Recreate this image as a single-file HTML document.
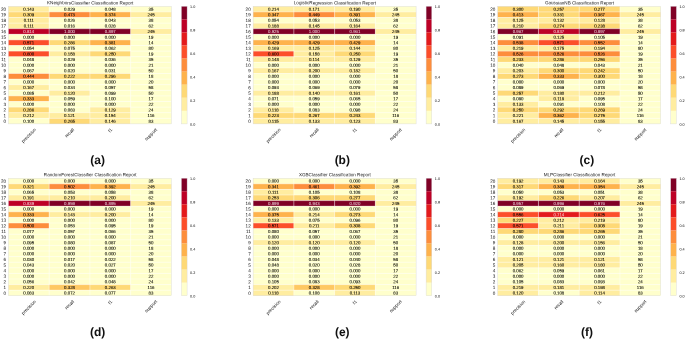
<!DOCTYPE html>
<html><head><meta charset="utf-8"><title>Classification Reports</title>
<style>
html,body{margin:0;padding:0;background:#fff;}
body{width:685px;height:340px;overflow:hidden;font-family:"Liberation Sans",sans-serif;}
svg{display:block;will-change:transform;opacity:0.999;text-rendering:geometricPrecision;}
</style></head><body>
<svg width="685" height="340" viewBox="0 0 685 340" font-family="Liberation Sans, sans-serif">
<rect width="685" height="340" fill="#fff"/>
<g>
<rect x="8.40" y="6.30" width="40.80" height="5.65" fill="#ffeda0"/>
<rect x="49.15" y="6.30" width="40.80" height="5.65" fill="#ffffcc"/>
<rect x="89.90" y="6.30" width="40.80" height="5.65" fill="#ffffcc"/>
<rect x="130.65" y="6.30" width="40.80" height="5.65" fill="#ffffcc"/>
<rect x="8.40" y="11.90" width="40.80" height="5.65" fill="#fed976"/>
<rect x="49.15" y="11.90" width="40.80" height="5.65" fill="#fd8d3c"/>
<rect x="89.90" y="11.90" width="40.80" height="5.65" fill="#feb24c"/>
<rect x="130.65" y="11.90" width="40.80" height="5.65" fill="#ffeda0"/>
<rect x="8.40" y="17.50" width="40.80" height="5.65" fill="#ffeda0"/>
<rect x="49.15" y="17.50" width="40.80" height="5.65" fill="#ffffcc"/>
<rect x="89.90" y="17.50" width="40.80" height="5.65" fill="#ffffcc"/>
<rect x="130.65" y="17.50" width="40.80" height="5.65" fill="#ffffcc"/>
<rect x="8.40" y="23.10" width="40.80" height="5.65" fill="#ffeda0"/>
<rect x="49.15" y="23.10" width="40.80" height="5.65" fill="#ffffcc"/>
<rect x="89.90" y="23.10" width="40.80" height="5.65" fill="#ffffcc"/>
<rect x="130.65" y="23.10" width="40.80" height="5.65" fill="#ffffcc"/>
<rect x="8.40" y="28.70" width="40.80" height="5.65" fill="#bd0026"/>
<rect x="49.15" y="28.70" width="40.80" height="5.65" fill="#800026"/>
<rect x="89.90" y="28.70" width="40.80" height="5.65" fill="#800026"/>
<rect x="130.65" y="28.70" width="40.80" height="5.65" fill="#ffeda0"/>
<rect x="8.40" y="34.30" width="40.80" height="5.65" fill="#ffffcc"/>
<rect x="49.15" y="34.30" width="40.80" height="5.65" fill="#ffffcc"/>
<rect x="89.90" y="34.30" width="40.80" height="5.65" fill="#ffffcc"/>
<rect x="130.65" y="34.30" width="40.80" height="5.65" fill="#ffffcc"/>
<rect x="8.40" y="39.90" width="40.80" height="5.65" fill="#fc4e2a"/>
<rect x="49.15" y="39.90" width="40.80" height="5.65" fill="#fed976"/>
<rect x="89.90" y="39.90" width="40.80" height="5.65" fill="#feb24c"/>
<rect x="130.65" y="39.90" width="40.80" height="5.65" fill="#ffffcc"/>
<rect x="8.40" y="45.50" width="40.80" height="5.65" fill="#ffffcc"/>
<rect x="49.15" y="45.50" width="40.80" height="5.65" fill="#ffffcc"/>
<rect x="89.90" y="45.50" width="40.80" height="5.65" fill="#ffffcc"/>
<rect x="130.65" y="45.50" width="40.80" height="5.65" fill="#ffffcc"/>
<rect x="8.40" y="51.10" width="40.80" height="5.65" fill="#fc4e2a"/>
<rect x="49.15" y="51.10" width="40.80" height="5.65" fill="#ffeda0"/>
<rect x="89.90" y="51.10" width="40.80" height="5.65" fill="#fed976"/>
<rect x="130.65" y="51.10" width="40.80" height="5.65" fill="#ffffcc"/>
<rect x="8.40" y="56.70" width="40.80" height="5.65" fill="#ffffcc"/>
<rect x="49.15" y="56.70" width="40.80" height="5.65" fill="#ffffcc"/>
<rect x="89.90" y="56.70" width="40.80" height="5.65" fill="#ffffcc"/>
<rect x="130.65" y="56.70" width="40.80" height="5.65" fill="#ffffcc"/>
<rect x="8.40" y="62.30" width="40.80" height="5.65" fill="#ffffcc"/>
<rect x="49.15" y="62.30" width="40.80" height="5.65" fill="#ffffcc"/>
<rect x="89.90" y="62.30" width="40.80" height="5.65" fill="#ffffcc"/>
<rect x="130.65" y="62.30" width="40.80" height="5.65" fill="#ffffcc"/>
<rect x="8.40" y="67.90" width="40.80" height="5.65" fill="#ffffcc"/>
<rect x="49.15" y="67.90" width="40.80" height="5.65" fill="#ffffcc"/>
<rect x="89.90" y="67.90" width="40.80" height="5.65" fill="#ffffcc"/>
<rect x="130.65" y="67.90" width="40.80" height="5.65" fill="#ffffcc"/>
<rect x="8.40" y="73.50" width="40.80" height="5.65" fill="#fd8d3c"/>
<rect x="49.15" y="73.50" width="40.80" height="5.65" fill="#fed976"/>
<rect x="89.90" y="73.50" width="40.80" height="5.65" fill="#fed976"/>
<rect x="130.65" y="73.50" width="40.80" height="5.65" fill="#ffffcc"/>
<rect x="8.40" y="79.10" width="40.80" height="5.65" fill="#ffffcc"/>
<rect x="49.15" y="79.10" width="40.80" height="5.65" fill="#ffffcc"/>
<rect x="89.90" y="79.10" width="40.80" height="5.65" fill="#ffffcc"/>
<rect x="130.65" y="79.10" width="40.80" height="5.65" fill="#ffffcc"/>
<rect x="8.40" y="84.70" width="40.80" height="5.65" fill="#ffeda0"/>
<rect x="49.15" y="84.70" width="40.80" height="5.65" fill="#ffffcc"/>
<rect x="89.90" y="84.70" width="40.80" height="5.65" fill="#ffffcc"/>
<rect x="130.65" y="84.70" width="40.80" height="5.65" fill="#ffffcc"/>
<rect x="8.40" y="90.30" width="40.80" height="5.65" fill="#ffffcc"/>
<rect x="49.15" y="90.30" width="40.80" height="5.65" fill="#ffeda0"/>
<rect x="89.90" y="90.30" width="40.80" height="5.65" fill="#ffffcc"/>
<rect x="130.65" y="90.30" width="40.80" height="5.65" fill="#ffffcc"/>
<rect x="8.40" y="95.90" width="40.80" height="5.65" fill="#feb24c"/>
<rect x="49.15" y="95.90" width="40.80" height="5.65" fill="#ffffcc"/>
<rect x="89.90" y="95.90" width="40.80" height="5.65" fill="#ffffcc"/>
<rect x="130.65" y="95.90" width="40.80" height="5.65" fill="#ffffcc"/>
<rect x="8.40" y="101.50" width="40.80" height="5.65" fill="#ffffcc"/>
<rect x="49.15" y="101.50" width="40.80" height="5.65" fill="#ffffcc"/>
<rect x="89.90" y="101.50" width="40.80" height="5.65" fill="#ffffcc"/>
<rect x="130.65" y="101.50" width="40.80" height="5.65" fill="#ffffcc"/>
<rect x="8.40" y="107.10" width="40.80" height="5.65" fill="#fed976"/>
<rect x="49.15" y="107.10" width="40.80" height="5.65" fill="#ffffcc"/>
<rect x="89.90" y="107.10" width="40.80" height="5.65" fill="#ffeda0"/>
<rect x="130.65" y="107.10" width="40.80" height="5.65" fill="#ffffcc"/>
<rect x="8.40" y="112.70" width="40.80" height="5.65" fill="#ffeda0"/>
<rect x="49.15" y="112.70" width="40.80" height="5.65" fill="#ffeda0"/>
<rect x="89.90" y="112.70" width="40.80" height="5.65" fill="#ffeda0"/>
<rect x="130.65" y="112.70" width="40.80" height="5.65" fill="#ffffcc"/>
<rect x="8.40" y="118.30" width="40.80" height="5.65" fill="#ffffcc"/>
<rect x="49.15" y="118.30" width="40.80" height="5.65" fill="#fed976"/>
<rect x="89.90" y="118.30" width="40.80" height="5.65" fill="#ffeda0"/>
<rect x="130.65" y="118.30" width="40.80" height="5.65" fill="#ffffcc"/>
<line x1="8.40" x2="171.40" y1="11.90" y2="11.90" stroke="#fff" stroke-width="0.5" stroke-opacity="0.85"/>
<line x1="8.40" x2="171.40" y1="17.50" y2="17.50" stroke="#fff" stroke-width="0.5" stroke-opacity="0.85"/>
<line x1="8.40" x2="171.40" y1="23.10" y2="23.10" stroke="#fff" stroke-width="0.5" stroke-opacity="0.85"/>
<line x1="8.40" x2="171.40" y1="28.70" y2="28.70" stroke="#fff" stroke-width="0.5" stroke-opacity="0.85"/>
<line x1="8.40" x2="171.40" y1="34.30" y2="34.30" stroke="#fff" stroke-width="0.5" stroke-opacity="0.85"/>
<line x1="8.40" x2="171.40" y1="39.90" y2="39.90" stroke="#fff" stroke-width="0.5" stroke-opacity="0.85"/>
<line x1="8.40" x2="171.40" y1="45.50" y2="45.50" stroke="#fff" stroke-width="0.5" stroke-opacity="0.85"/>
<line x1="8.40" x2="171.40" y1="51.10" y2="51.10" stroke="#fff" stroke-width="0.5" stroke-opacity="0.85"/>
<line x1="8.40" x2="171.40" y1="56.70" y2="56.70" stroke="#fff" stroke-width="0.5" stroke-opacity="0.85"/>
<line x1="8.40" x2="171.40" y1="62.30" y2="62.30" stroke="#fff" stroke-width="0.5" stroke-opacity="0.85"/>
<line x1="8.40" x2="171.40" y1="67.90" y2="67.90" stroke="#fff" stroke-width="0.5" stroke-opacity="0.85"/>
<line x1="8.40" x2="171.40" y1="73.50" y2="73.50" stroke="#fff" stroke-width="0.5" stroke-opacity="0.85"/>
<line x1="8.40" x2="171.40" y1="79.10" y2="79.10" stroke="#fff" stroke-width="0.5" stroke-opacity="0.85"/>
<line x1="8.40" x2="171.40" y1="84.70" y2="84.70" stroke="#fff" stroke-width="0.5" stroke-opacity="0.85"/>
<line x1="8.40" x2="171.40" y1="90.30" y2="90.30" stroke="#fff" stroke-width="0.5" stroke-opacity="0.85"/>
<line x1="8.40" x2="171.40" y1="95.90" y2="95.90" stroke="#fff" stroke-width="0.5" stroke-opacity="0.85"/>
<line x1="8.40" x2="171.40" y1="101.50" y2="101.50" stroke="#fff" stroke-width="0.5" stroke-opacity="0.85"/>
<line x1="8.40" x2="171.40" y1="107.10" y2="107.10" stroke="#fff" stroke-width="0.5" stroke-opacity="0.85"/>
<line x1="8.40" x2="171.40" y1="112.70" y2="112.70" stroke="#fff" stroke-width="0.5" stroke-opacity="0.85"/>
<line x1="8.40" x2="171.40" y1="118.30" y2="118.30" stroke="#fff" stroke-width="0.5" stroke-opacity="0.85"/>
<line x1="49.15" x2="49.15" y1="6.30" y2="123.90" stroke="#fff" stroke-width="0.5" stroke-opacity="0.85"/>
<line x1="89.90" x2="89.90" y1="6.30" y2="123.90" stroke="#fff" stroke-width="0.5" stroke-opacity="0.85"/>
<line x1="130.65" x2="130.65" y1="6.30" y2="123.90" stroke="#fff" stroke-width="0.5" stroke-opacity="0.85"/>
<rect x="8.40" y="6.30" width="163.00" height="117.60" fill="none" stroke="#d8d8dc" stroke-width="0.4"/>
<text transform="translate(28.77,10.64) rotate(0.06)" font-size="4.35" text-anchor="middle" fill="#000" stroke="#000" stroke-width="0.08">0.143</text>
<text transform="translate(69.53,10.64) rotate(0.06)" font-size="4.35" text-anchor="middle" fill="#000" stroke="#000" stroke-width="0.08">0.029</text>
<text transform="translate(110.28,10.64) rotate(0.06)" font-size="4.35" text-anchor="middle" fill="#000" stroke="#000" stroke-width="0.08">0.048</text>
<text transform="translate(151.03,10.64) rotate(0.06)" font-size="4.35" text-anchor="middle" fill="#000" stroke="#000" stroke-width="0.08">35</text>
<text transform="translate(6.00,10.73) rotate(0.06)" font-size="4.6" text-anchor="end" fill="#111">20</text>
<text transform="translate(28.77,16.24) rotate(0.06)" font-size="4.35" text-anchor="middle" fill="#000" stroke="#000" stroke-width="0.08">0.309</text>
<text transform="translate(69.53,16.24) rotate(0.06)" font-size="4.35" text-anchor="middle" fill="#000" stroke="#000" stroke-width="0.08">0.473</text>
<text transform="translate(110.28,16.24) rotate(0.06)" font-size="4.35" text-anchor="middle" fill="#000" stroke="#000" stroke-width="0.08">0.374</text>
<text transform="translate(151.03,16.24) rotate(0.06)" font-size="4.35" text-anchor="middle" fill="#000" stroke="#000" stroke-width="0.08">245</text>
<text transform="translate(6.00,16.33) rotate(0.06)" font-size="4.6" text-anchor="end" fill="#111">19</text>
<text transform="translate(28.77,21.84) rotate(0.06)" font-size="4.35" text-anchor="middle" fill="#000" stroke="#000" stroke-width="0.08">0.111</text>
<text transform="translate(69.53,21.84) rotate(0.06)" font-size="4.35" text-anchor="middle" fill="#000" stroke="#000" stroke-width="0.08">0.026</text>
<text transform="translate(110.28,21.84) rotate(0.06)" font-size="4.35" text-anchor="middle" fill="#000" stroke="#000" stroke-width="0.08">0.043</text>
<text transform="translate(151.03,21.84) rotate(0.06)" font-size="4.35" text-anchor="middle" fill="#000" stroke="#000" stroke-width="0.08">38</text>
<text transform="translate(6.00,21.93) rotate(0.06)" font-size="4.6" text-anchor="end" fill="#111">18</text>
<text transform="translate(28.77,27.44) rotate(0.06)" font-size="4.35" text-anchor="middle" fill="#000" stroke="#000" stroke-width="0.08">0.111</text>
<text transform="translate(69.53,27.44) rotate(0.06)" font-size="4.35" text-anchor="middle" fill="#000" stroke="#000" stroke-width="0.08">0.016</text>
<text transform="translate(110.28,27.44) rotate(0.06)" font-size="4.35" text-anchor="middle" fill="#000" stroke="#000" stroke-width="0.08">0.028</text>
<text transform="translate(151.03,27.44) rotate(0.06)" font-size="4.35" text-anchor="middle" fill="#000" stroke="#000" stroke-width="0.08">62</text>
<text transform="translate(6.00,27.53) rotate(0.06)" font-size="4.6" text-anchor="end" fill="#111">17</text>
<text transform="translate(28.77,33.04) rotate(0.06)" font-size="4.35" text-anchor="middle" fill="#fff" fill-opacity="0.88">0.814</text>
<text transform="translate(69.53,33.04) rotate(0.06)" font-size="4.35" text-anchor="middle" fill="#fff" fill-opacity="0.88">1.000</text>
<text transform="translate(110.28,33.04) rotate(0.06)" font-size="4.35" text-anchor="middle" fill="#fff" fill-opacity="0.88">0.897</text>
<text transform="translate(151.03,33.04) rotate(0.06)" font-size="4.35" text-anchor="middle" fill="#000" stroke="#000" stroke-width="0.08">245</text>
<text transform="translate(6.00,33.13) rotate(0.06)" font-size="4.6" text-anchor="end" fill="#111">16</text>
<text transform="translate(28.77,38.64) rotate(0.06)" font-size="4.35" text-anchor="middle" fill="#000" stroke="#000" stroke-width="0.08">0.000</text>
<text transform="translate(69.53,38.64) rotate(0.06)" font-size="4.35" text-anchor="middle" fill="#000" stroke="#000" stroke-width="0.08">0.000</text>
<text transform="translate(110.28,38.64) rotate(0.06)" font-size="4.35" text-anchor="middle" fill="#000" stroke="#000" stroke-width="0.08">0.000</text>
<text transform="translate(151.03,38.64) rotate(0.06)" font-size="4.35" text-anchor="middle" fill="#000" stroke="#000" stroke-width="0.08">19</text>
<text transform="translate(6.00,38.73) rotate(0.06)" font-size="4.6" text-anchor="end" fill="#111">15</text>
<text transform="translate(28.77,44.24) rotate(0.06)" font-size="4.35" text-anchor="middle" fill="#000" stroke="#000" stroke-width="0.08">0.571</text>
<text transform="translate(69.53,44.24) rotate(0.06)" font-size="4.35" text-anchor="middle" fill="#000" stroke="#000" stroke-width="0.08">0.286</text>
<text transform="translate(110.28,44.24) rotate(0.06)" font-size="4.35" text-anchor="middle" fill="#000" stroke="#000" stroke-width="0.08">0.381</text>
<text transform="translate(151.03,44.24) rotate(0.06)" font-size="4.35" text-anchor="middle" fill="#000" stroke="#000" stroke-width="0.08">14</text>
<text transform="translate(6.00,44.33) rotate(0.06)" font-size="4.6" text-anchor="end" fill="#111">14</text>
<text transform="translate(28.77,49.84) rotate(0.06)" font-size="4.35" text-anchor="middle" fill="#000" stroke="#000" stroke-width="0.08">0.054</text>
<text transform="translate(69.53,49.84) rotate(0.06)" font-size="4.35" text-anchor="middle" fill="#000" stroke="#000" stroke-width="0.08">0.075</text>
<text transform="translate(110.28,49.84) rotate(0.06)" font-size="4.35" text-anchor="middle" fill="#000" stroke="#000" stroke-width="0.08">0.062</text>
<text transform="translate(151.03,49.84) rotate(0.06)" font-size="4.35" text-anchor="middle" fill="#000" stroke="#000" stroke-width="0.08">80</text>
<text transform="translate(6.00,49.93) rotate(0.06)" font-size="4.6" text-anchor="end" fill="#111">13</text>
<text transform="translate(28.77,55.44) rotate(0.06)" font-size="4.35" text-anchor="middle" fill="#000" stroke="#000" stroke-width="0.08">0.600</text>
<text transform="translate(69.53,55.44) rotate(0.06)" font-size="4.35" text-anchor="middle" fill="#000" stroke="#000" stroke-width="0.08">0.158</text>
<text transform="translate(110.28,55.44) rotate(0.06)" font-size="4.35" text-anchor="middle" fill="#000" stroke="#000" stroke-width="0.08">0.250</text>
<text transform="translate(151.03,55.44) rotate(0.06)" font-size="4.35" text-anchor="middle" fill="#000" stroke="#000" stroke-width="0.08">19</text>
<text transform="translate(6.00,55.53) rotate(0.06)" font-size="4.6" text-anchor="end" fill="#111">12</text>
<text transform="translate(28.77,61.04) rotate(0.06)" font-size="4.35" text-anchor="middle" fill="#000" stroke="#000" stroke-width="0.08">0.048</text>
<text transform="translate(69.53,61.04) rotate(0.06)" font-size="4.35" text-anchor="middle" fill="#000" stroke="#000" stroke-width="0.08">0.029</text>
<text transform="translate(110.28,61.04) rotate(0.06)" font-size="4.35" text-anchor="middle" fill="#000" stroke="#000" stroke-width="0.08">0.036</text>
<text transform="translate(151.03,61.04) rotate(0.06)" font-size="4.35" text-anchor="middle" fill="#000" stroke="#000" stroke-width="0.08">35</text>
<text transform="translate(6.00,61.13) rotate(0.06)" font-size="4.6" text-anchor="end" fill="#111">11</text>
<text transform="translate(28.77,66.64) rotate(0.06)" font-size="4.35" text-anchor="middle" fill="#000" stroke="#000" stroke-width="0.08">0.000</text>
<text transform="translate(69.53,66.64) rotate(0.06)" font-size="4.35" text-anchor="middle" fill="#000" stroke="#000" stroke-width="0.08">0.000</text>
<text transform="translate(110.28,66.64) rotate(0.06)" font-size="4.35" text-anchor="middle" fill="#000" stroke="#000" stroke-width="0.08">0.000</text>
<text transform="translate(151.03,66.64) rotate(0.06)" font-size="4.35" text-anchor="middle" fill="#000" stroke="#000" stroke-width="0.08">21</text>
<text transform="translate(6.00,66.73) rotate(0.06)" font-size="4.6" text-anchor="end" fill="#111">10</text>
<text transform="translate(28.77,72.24) rotate(0.06)" font-size="4.35" text-anchor="middle" fill="#000" stroke="#000" stroke-width="0.08">0.067</text>
<text transform="translate(69.53,72.24) rotate(0.06)" font-size="4.35" text-anchor="middle" fill="#000" stroke="#000" stroke-width="0.08">0.020</text>
<text transform="translate(110.28,72.24) rotate(0.06)" font-size="4.35" text-anchor="middle" fill="#000" stroke="#000" stroke-width="0.08">0.031</text>
<text transform="translate(151.03,72.24) rotate(0.06)" font-size="4.35" text-anchor="middle" fill="#000" stroke="#000" stroke-width="0.08">50</text>
<text transform="translate(6.00,72.33) rotate(0.06)" font-size="4.6" text-anchor="end" fill="#111">9</text>
<text transform="translate(28.77,77.84) rotate(0.06)" font-size="4.35" text-anchor="middle" fill="#000" stroke="#000" stroke-width="0.08">0.444</text>
<text transform="translate(69.53,77.84) rotate(0.06)" font-size="4.35" text-anchor="middle" fill="#000" stroke="#000" stroke-width="0.08">0.222</text>
<text transform="translate(110.28,77.84) rotate(0.06)" font-size="4.35" text-anchor="middle" fill="#000" stroke="#000" stroke-width="0.08">0.296</text>
<text transform="translate(151.03,77.84) rotate(0.06)" font-size="4.35" text-anchor="middle" fill="#000" stroke="#000" stroke-width="0.08">18</text>
<text transform="translate(6.00,77.93) rotate(0.06)" font-size="4.6" text-anchor="end" fill="#111">8</text>
<text transform="translate(28.77,83.44) rotate(0.06)" font-size="4.35" text-anchor="middle" fill="#000" stroke="#000" stroke-width="0.08">0.000</text>
<text transform="translate(69.53,83.44) rotate(0.06)" font-size="4.35" text-anchor="middle" fill="#000" stroke="#000" stroke-width="0.08">0.000</text>
<text transform="translate(110.28,83.44) rotate(0.06)" font-size="4.35" text-anchor="middle" fill="#000" stroke="#000" stroke-width="0.08">0.000</text>
<text transform="translate(151.03,83.44) rotate(0.06)" font-size="4.35" text-anchor="middle" fill="#000" stroke="#000" stroke-width="0.08">20</text>
<text transform="translate(6.00,83.53) rotate(0.06)" font-size="4.6" text-anchor="end" fill="#111">7</text>
<text transform="translate(28.77,89.04) rotate(0.06)" font-size="4.35" text-anchor="middle" fill="#000" stroke="#000" stroke-width="0.08">0.167</text>
<text transform="translate(69.53,89.04) rotate(0.06)" font-size="4.35" text-anchor="middle" fill="#000" stroke="#000" stroke-width="0.08">0.034</text>
<text transform="translate(110.28,89.04) rotate(0.06)" font-size="4.35" text-anchor="middle" fill="#000" stroke="#000" stroke-width="0.08">0.057</text>
<text transform="translate(151.03,89.04) rotate(0.06)" font-size="4.35" text-anchor="middle" fill="#000" stroke="#000" stroke-width="0.08">58</text>
<text transform="translate(6.00,89.13) rotate(0.06)" font-size="4.6" text-anchor="end" fill="#111">6</text>
<text transform="translate(28.77,94.64) rotate(0.06)" font-size="4.35" text-anchor="middle" fill="#000" stroke="#000" stroke-width="0.08">0.085</text>
<text transform="translate(69.53,94.64) rotate(0.06)" font-size="4.35" text-anchor="middle" fill="#000" stroke="#000" stroke-width="0.08">0.120</text>
<text transform="translate(110.28,94.64) rotate(0.06)" font-size="4.35" text-anchor="middle" fill="#000" stroke="#000" stroke-width="0.08">0.099</text>
<text transform="translate(151.03,94.64) rotate(0.06)" font-size="4.35" text-anchor="middle" fill="#000" stroke="#000" stroke-width="0.08">50</text>
<text transform="translate(6.00,94.73) rotate(0.06)" font-size="4.6" text-anchor="end" fill="#111">5</text>
<text transform="translate(28.77,100.24) rotate(0.06)" font-size="4.35" text-anchor="middle" fill="#000" stroke="#000" stroke-width="0.08">0.333</text>
<text transform="translate(69.53,100.24) rotate(0.06)" font-size="4.35" text-anchor="middle" fill="#000" stroke="#000" stroke-width="0.08">0.059</text>
<text transform="translate(110.28,100.24) rotate(0.06)" font-size="4.35" text-anchor="middle" fill="#000" stroke="#000" stroke-width="0.08">0.100</text>
<text transform="translate(151.03,100.24) rotate(0.06)" font-size="4.35" text-anchor="middle" fill="#000" stroke="#000" stroke-width="0.08">17</text>
<text transform="translate(6.00,100.33) rotate(0.06)" font-size="4.6" text-anchor="end" fill="#111">4</text>
<text transform="translate(28.77,105.84) rotate(0.06)" font-size="4.35" text-anchor="middle" fill="#000" stroke="#000" stroke-width="0.08">0.000</text>
<text transform="translate(69.53,105.84) rotate(0.06)" font-size="4.35" text-anchor="middle" fill="#000" stroke="#000" stroke-width="0.08">0.000</text>
<text transform="translate(110.28,105.84) rotate(0.06)" font-size="4.35" text-anchor="middle" fill="#000" stroke="#000" stroke-width="0.08">0.000</text>
<text transform="translate(151.03,105.84) rotate(0.06)" font-size="4.35" text-anchor="middle" fill="#000" stroke="#000" stroke-width="0.08">22</text>
<text transform="translate(6.00,105.93) rotate(0.06)" font-size="4.6" text-anchor="end" fill="#111">3</text>
<text transform="translate(28.77,111.44) rotate(0.06)" font-size="4.35" text-anchor="middle" fill="#000" stroke="#000" stroke-width="0.08">0.286</text>
<text transform="translate(69.53,111.44) rotate(0.06)" font-size="4.35" text-anchor="middle" fill="#000" stroke="#000" stroke-width="0.08">0.083</text>
<text transform="translate(110.28,111.44) rotate(0.06)" font-size="4.35" text-anchor="middle" fill="#000" stroke="#000" stroke-width="0.08">0.129</text>
<text transform="translate(151.03,111.44) rotate(0.06)" font-size="4.35" text-anchor="middle" fill="#000" stroke="#000" stroke-width="0.08">24</text>
<text transform="translate(6.00,111.53) rotate(0.06)" font-size="4.6" text-anchor="end" fill="#111">2</text>
<text transform="translate(28.77,117.04) rotate(0.06)" font-size="4.35" text-anchor="middle" fill="#000" stroke="#000" stroke-width="0.08">0.212</text>
<text transform="translate(69.53,117.04) rotate(0.06)" font-size="4.35" text-anchor="middle" fill="#000" stroke="#000" stroke-width="0.08">0.121</text>
<text transform="translate(110.28,117.04) rotate(0.06)" font-size="4.35" text-anchor="middle" fill="#000" stroke="#000" stroke-width="0.08">0.154</text>
<text transform="translate(151.03,117.04) rotate(0.06)" font-size="4.35" text-anchor="middle" fill="#000" stroke="#000" stroke-width="0.08">116</text>
<text transform="translate(6.00,117.13) rotate(0.06)" font-size="4.6" text-anchor="end" fill="#111">1</text>
<text transform="translate(28.77,122.64) rotate(0.06)" font-size="4.35" text-anchor="middle" fill="#000" stroke="#000" stroke-width="0.08">0.100</text>
<text transform="translate(69.53,122.64) rotate(0.06)" font-size="4.35" text-anchor="middle" fill="#000" stroke="#000" stroke-width="0.08">0.265</text>
<text transform="translate(110.28,122.64) rotate(0.06)" font-size="4.35" text-anchor="middle" fill="#000" stroke="#000" stroke-width="0.08">0.146</text>
<text transform="translate(151.03,122.64) rotate(0.06)" font-size="4.35" text-anchor="middle" fill="#000" stroke="#000" stroke-width="0.08">83</text>
<text transform="translate(6.00,122.73) rotate(0.06)" font-size="4.6" text-anchor="end" fill="#111">0</text>
<text transform="translate(90.20,4.40) rotate(0.06)" font-size="4.6" text-anchor="middle" fill="#1a1a1a">KNeighborsClassifier Classification Report</text>
<text transform="translate(28.77,135.55) rotate(-45)" y="1.38" font-size="4.6" text-anchor="middle" fill="#111">precision</text>
<text transform="translate(69.53,132.93) rotate(-45)" y="1.38" font-size="4.6" text-anchor="middle" fill="#111">recall</text>
<text transform="translate(110.28,130.40) rotate(-45)" y="1.38" font-size="4.6" text-anchor="middle" fill="#111">f1</text>
<text transform="translate(151.03,134.47) rotate(-45)" y="1.38" font-size="4.6" text-anchor="middle" fill="#111">support</text>
<rect x="181.40" y="6.30" width="5.7" height="13.12" fill="#800026"/>
<rect x="181.40" y="19.37" width="5.7" height="13.12" fill="#bd0026"/>
<rect x="181.40" y="32.43" width="5.7" height="13.12" fill="#e31a1c"/>
<rect x="181.40" y="45.50" width="5.7" height="13.12" fill="#fc4e2a"/>
<rect x="181.40" y="58.57" width="5.7" height="13.12" fill="#fd8d3c"/>
<rect x="181.40" y="71.63" width="5.7" height="13.12" fill="#feb24c"/>
<rect x="181.40" y="84.70" width="5.7" height="13.12" fill="#fed976"/>
<rect x="181.40" y="97.77" width="5.7" height="13.12" fill="#ffeda0"/>
<rect x="181.40" y="110.83" width="5.7" height="13.12" fill="#ffffcc"/>
<rect x="181.40" y="6.30" width="5.7" height="117.60" fill="none" stroke="#d8d8dc" stroke-width="0.4"/>
<text transform="translate(190.10,8.03) rotate(0.06)" font-size="3.75" text-anchor="start" fill="#111">1.0</text>
<text transform="translate(190.10,31.55) rotate(0.06)" font-size="3.75" text-anchor="start" fill="#111">0.8</text>
<text transform="translate(190.10,55.07) rotate(0.06)" font-size="3.75" text-anchor="start" fill="#111">0.6</text>
<text transform="translate(190.10,78.59) rotate(0.06)" font-size="3.75" text-anchor="start" fill="#111">0.4</text>
<text transform="translate(190.10,102.11) rotate(0.06)" font-size="3.75" text-anchor="start" fill="#111">0.2</text>
<text transform="translate(190.10,125.63) rotate(0.06)" font-size="3.75" text-anchor="start" fill="#111">0.0</text>
<text x="97.60" y="164.00" font-size="12" font-weight="bold" text-anchor="middle" fill="#111">(a)</text>
</g>
<g>
<rect x="253.10" y="6.30" width="40.80" height="5.65" fill="#ffeda0"/>
<rect x="293.85" y="6.30" width="40.80" height="5.65" fill="#ffeda0"/>
<rect x="334.60" y="6.30" width="40.80" height="5.65" fill="#ffeda0"/>
<rect x="375.35" y="6.30" width="40.80" height="5.65" fill="#ffffcc"/>
<rect x="253.10" y="11.90" width="40.80" height="5.65" fill="#feb24c"/>
<rect x="293.85" y="11.90" width="40.80" height="5.65" fill="#fd8d3c"/>
<rect x="334.60" y="11.90" width="40.80" height="5.65" fill="#feb24c"/>
<rect x="375.35" y="11.90" width="40.80" height="5.65" fill="#ffeda0"/>
<rect x="253.10" y="17.50" width="40.80" height="5.65" fill="#ffffcc"/>
<rect x="293.85" y="17.50" width="40.80" height="5.65" fill="#ffffcc"/>
<rect x="334.60" y="17.50" width="40.80" height="5.65" fill="#ffffcc"/>
<rect x="375.35" y="17.50" width="40.80" height="5.65" fill="#ffffcc"/>
<rect x="253.10" y="23.10" width="40.80" height="5.65" fill="#ffeda0"/>
<rect x="293.85" y="23.10" width="40.80" height="5.65" fill="#ffeda0"/>
<rect x="334.60" y="23.10" width="40.80" height="5.65" fill="#ffeda0"/>
<rect x="375.35" y="23.10" width="40.80" height="5.65" fill="#ffffcc"/>
<rect x="253.10" y="28.70" width="40.80" height="5.65" fill="#800026"/>
<rect x="293.85" y="28.70" width="40.80" height="5.65" fill="#800026"/>
<rect x="334.60" y="28.70" width="40.80" height="5.65" fill="#800026"/>
<rect x="375.35" y="28.70" width="40.80" height="5.65" fill="#ffeda0"/>
<rect x="253.10" y="34.30" width="40.80" height="5.65" fill="#ffffcc"/>
<rect x="293.85" y="34.30" width="40.80" height="5.65" fill="#ffffcc"/>
<rect x="334.60" y="34.30" width="40.80" height="5.65" fill="#ffffcc"/>
<rect x="375.35" y="34.30" width="40.80" height="5.65" fill="#ffffcc"/>
<rect x="253.10" y="39.90" width="40.80" height="5.65" fill="#feb24c"/>
<rect x="293.85" y="39.90" width="40.80" height="5.65" fill="#feb24c"/>
<rect x="334.60" y="39.90" width="40.80" height="5.65" fill="#feb24c"/>
<rect x="375.35" y="39.90" width="40.80" height="5.65" fill="#ffffcc"/>
<rect x="253.10" y="45.50" width="40.80" height="5.65" fill="#ffeda0"/>
<rect x="293.85" y="45.50" width="40.80" height="5.65" fill="#ffeda0"/>
<rect x="334.60" y="45.50" width="40.80" height="5.65" fill="#ffeda0"/>
<rect x="375.35" y="45.50" width="40.80" height="5.65" fill="#ffffcc"/>
<rect x="253.10" y="51.10" width="40.80" height="5.65" fill="#fc4e2a"/>
<rect x="293.85" y="51.10" width="40.80" height="5.65" fill="#ffeda0"/>
<rect x="334.60" y="51.10" width="40.80" height="5.65" fill="#fed976"/>
<rect x="375.35" y="51.10" width="40.80" height="5.65" fill="#ffffcc"/>
<rect x="253.10" y="56.70" width="40.80" height="5.65" fill="#ffeda0"/>
<rect x="293.85" y="56.70" width="40.80" height="5.65" fill="#ffeda0"/>
<rect x="334.60" y="56.70" width="40.80" height="5.65" fill="#ffeda0"/>
<rect x="375.35" y="56.70" width="40.80" height="5.65" fill="#ffffcc"/>
<rect x="253.10" y="62.30" width="40.80" height="5.65" fill="#ffffcc"/>
<rect x="293.85" y="62.30" width="40.80" height="5.65" fill="#ffffcc"/>
<rect x="334.60" y="62.30" width="40.80" height="5.65" fill="#ffffcc"/>
<rect x="375.35" y="62.30" width="40.80" height="5.65" fill="#ffffcc"/>
<rect x="253.10" y="67.90" width="40.80" height="5.65" fill="#ffeda0"/>
<rect x="293.85" y="67.90" width="40.80" height="5.65" fill="#ffeda0"/>
<rect x="334.60" y="67.90" width="40.80" height="5.65" fill="#ffeda0"/>
<rect x="375.35" y="67.90" width="40.80" height="5.65" fill="#ffffcc"/>
<rect x="253.10" y="73.50" width="40.80" height="5.65" fill="#ffffcc"/>
<rect x="293.85" y="73.50" width="40.80" height="5.65" fill="#ffffcc"/>
<rect x="334.60" y="73.50" width="40.80" height="5.65" fill="#ffffcc"/>
<rect x="375.35" y="73.50" width="40.80" height="5.65" fill="#ffffcc"/>
<rect x="253.10" y="79.10" width="40.80" height="5.65" fill="#ffffcc"/>
<rect x="293.85" y="79.10" width="40.80" height="5.65" fill="#ffffcc"/>
<rect x="334.60" y="79.10" width="40.80" height="5.65" fill="#ffffcc"/>
<rect x="375.35" y="79.10" width="40.80" height="5.65" fill="#ffffcc"/>
<rect x="253.10" y="84.70" width="40.80" height="5.65" fill="#ffffcc"/>
<rect x="293.85" y="84.70" width="40.80" height="5.65" fill="#ffffcc"/>
<rect x="334.60" y="84.70" width="40.80" height="5.65" fill="#ffffcc"/>
<rect x="375.35" y="84.70" width="40.80" height="5.65" fill="#ffffcc"/>
<rect x="253.10" y="90.30" width="40.80" height="5.65" fill="#ffeda0"/>
<rect x="293.85" y="90.30" width="40.80" height="5.65" fill="#ffeda0"/>
<rect x="334.60" y="90.30" width="40.80" height="5.65" fill="#ffeda0"/>
<rect x="375.35" y="90.30" width="40.80" height="5.65" fill="#ffffcc"/>
<rect x="253.10" y="95.90" width="40.80" height="5.65" fill="#ffffcc"/>
<rect x="293.85" y="95.90" width="40.80" height="5.65" fill="#ffffcc"/>
<rect x="334.60" y="95.90" width="40.80" height="5.65" fill="#ffffcc"/>
<rect x="375.35" y="95.90" width="40.80" height="5.65" fill="#ffffcc"/>
<rect x="253.10" y="101.50" width="40.80" height="5.65" fill="#ffffcc"/>
<rect x="293.85" y="101.50" width="40.80" height="5.65" fill="#ffffcc"/>
<rect x="334.60" y="101.50" width="40.80" height="5.65" fill="#ffffcc"/>
<rect x="375.35" y="101.50" width="40.80" height="5.65" fill="#ffffcc"/>
<rect x="253.10" y="107.10" width="40.80" height="5.65" fill="#ffeda0"/>
<rect x="293.85" y="107.10" width="40.80" height="5.65" fill="#ffffcc"/>
<rect x="334.60" y="107.10" width="40.80" height="5.65" fill="#ffffcc"/>
<rect x="375.35" y="107.10" width="40.80" height="5.65" fill="#ffffcc"/>
<rect x="253.10" y="112.70" width="40.80" height="5.65" fill="#fed976"/>
<rect x="293.85" y="112.70" width="40.80" height="5.65" fill="#fed976"/>
<rect x="334.60" y="112.70" width="40.80" height="5.65" fill="#fed976"/>
<rect x="375.35" y="112.70" width="40.80" height="5.65" fill="#ffffcc"/>
<rect x="253.10" y="118.30" width="40.80" height="5.65" fill="#ffeda0"/>
<rect x="293.85" y="118.30" width="40.80" height="5.65" fill="#ffeda0"/>
<rect x="334.60" y="118.30" width="40.80" height="5.65" fill="#ffeda0"/>
<rect x="375.35" y="118.30" width="40.80" height="5.65" fill="#ffffcc"/>
<line x1="253.10" x2="416.10" y1="11.90" y2="11.90" stroke="#fff" stroke-width="0.5" stroke-opacity="0.85"/>
<line x1="253.10" x2="416.10" y1="17.50" y2="17.50" stroke="#fff" stroke-width="0.5" stroke-opacity="0.85"/>
<line x1="253.10" x2="416.10" y1="23.10" y2="23.10" stroke="#fff" stroke-width="0.5" stroke-opacity="0.85"/>
<line x1="253.10" x2="416.10" y1="28.70" y2="28.70" stroke="#fff" stroke-width="0.5" stroke-opacity="0.85"/>
<line x1="253.10" x2="416.10" y1="34.30" y2="34.30" stroke="#fff" stroke-width="0.5" stroke-opacity="0.85"/>
<line x1="253.10" x2="416.10" y1="39.90" y2="39.90" stroke="#fff" stroke-width="0.5" stroke-opacity="0.85"/>
<line x1="253.10" x2="416.10" y1="45.50" y2="45.50" stroke="#fff" stroke-width="0.5" stroke-opacity="0.85"/>
<line x1="253.10" x2="416.10" y1="51.10" y2="51.10" stroke="#fff" stroke-width="0.5" stroke-opacity="0.85"/>
<line x1="253.10" x2="416.10" y1="56.70" y2="56.70" stroke="#fff" stroke-width="0.5" stroke-opacity="0.85"/>
<line x1="253.10" x2="416.10" y1="62.30" y2="62.30" stroke="#fff" stroke-width="0.5" stroke-opacity="0.85"/>
<line x1="253.10" x2="416.10" y1="67.90" y2="67.90" stroke="#fff" stroke-width="0.5" stroke-opacity="0.85"/>
<line x1="253.10" x2="416.10" y1="73.50" y2="73.50" stroke="#fff" stroke-width="0.5" stroke-opacity="0.85"/>
<line x1="253.10" x2="416.10" y1="79.10" y2="79.10" stroke="#fff" stroke-width="0.5" stroke-opacity="0.85"/>
<line x1="253.10" x2="416.10" y1="84.70" y2="84.70" stroke="#fff" stroke-width="0.5" stroke-opacity="0.85"/>
<line x1="253.10" x2="416.10" y1="90.30" y2="90.30" stroke="#fff" stroke-width="0.5" stroke-opacity="0.85"/>
<line x1="253.10" x2="416.10" y1="95.90" y2="95.90" stroke="#fff" stroke-width="0.5" stroke-opacity="0.85"/>
<line x1="253.10" x2="416.10" y1="101.50" y2="101.50" stroke="#fff" stroke-width="0.5" stroke-opacity="0.85"/>
<line x1="253.10" x2="416.10" y1="107.10" y2="107.10" stroke="#fff" stroke-width="0.5" stroke-opacity="0.85"/>
<line x1="253.10" x2="416.10" y1="112.70" y2="112.70" stroke="#fff" stroke-width="0.5" stroke-opacity="0.85"/>
<line x1="253.10" x2="416.10" y1="118.30" y2="118.30" stroke="#fff" stroke-width="0.5" stroke-opacity="0.85"/>
<line x1="293.85" x2="293.85" y1="6.30" y2="123.90" stroke="#fff" stroke-width="0.5" stroke-opacity="0.85"/>
<line x1="334.60" x2="334.60" y1="6.30" y2="123.90" stroke="#fff" stroke-width="0.5" stroke-opacity="0.85"/>
<line x1="375.35" x2="375.35" y1="6.30" y2="123.90" stroke="#fff" stroke-width="0.5" stroke-opacity="0.85"/>
<rect x="253.10" y="6.30" width="163.00" height="117.60" fill="none" stroke="#d8d8dc" stroke-width="0.4"/>
<text transform="translate(273.48,10.64) rotate(0.06)" font-size="4.35" text-anchor="middle" fill="#000" stroke="#000" stroke-width="0.08">0.214</text>
<text transform="translate(314.23,10.64) rotate(0.06)" font-size="4.35" text-anchor="middle" fill="#000" stroke="#000" stroke-width="0.08">0.171</text>
<text transform="translate(354.98,10.64) rotate(0.06)" font-size="4.35" text-anchor="middle" fill="#000" stroke="#000" stroke-width="0.08">0.190</text>
<text transform="translate(395.73,10.64) rotate(0.06)" font-size="4.35" text-anchor="middle" fill="#000" stroke="#000" stroke-width="0.08">35</text>
<text transform="translate(250.70,10.73) rotate(0.06)" font-size="4.6" text-anchor="end" fill="#111">20</text>
<text transform="translate(273.48,16.24) rotate(0.06)" font-size="4.35" text-anchor="middle" fill="#000" stroke="#000" stroke-width="0.08">0.347</text>
<text transform="translate(314.23,16.24) rotate(0.06)" font-size="4.35" text-anchor="middle" fill="#000" stroke="#000" stroke-width="0.08">0.449</text>
<text transform="translate(354.98,16.24) rotate(0.06)" font-size="4.35" text-anchor="middle" fill="#000" stroke="#000" stroke-width="0.08">0.391</text>
<text transform="translate(395.73,16.24) rotate(0.06)" font-size="4.35" text-anchor="middle" fill="#000" stroke="#000" stroke-width="0.08">245</text>
<text transform="translate(250.70,16.33) rotate(0.06)" font-size="4.6" text-anchor="end" fill="#111">19</text>
<text transform="translate(273.48,21.84) rotate(0.06)" font-size="4.35" text-anchor="middle" fill="#000" stroke="#000" stroke-width="0.08">0.054</text>
<text transform="translate(314.23,21.84) rotate(0.06)" font-size="4.35" text-anchor="middle" fill="#000" stroke="#000" stroke-width="0.08">0.053</text>
<text transform="translate(354.98,21.84) rotate(0.06)" font-size="4.35" text-anchor="middle" fill="#000" stroke="#000" stroke-width="0.08">0.053</text>
<text transform="translate(395.73,21.84) rotate(0.06)" font-size="4.35" text-anchor="middle" fill="#000" stroke="#000" stroke-width="0.08">38</text>
<text transform="translate(250.70,21.93) rotate(0.06)" font-size="4.6" text-anchor="end" fill="#111">18</text>
<text transform="translate(273.48,27.44) rotate(0.06)" font-size="4.35" text-anchor="middle" fill="#000" stroke="#000" stroke-width="0.08">0.188</text>
<text transform="translate(314.23,27.44) rotate(0.06)" font-size="4.35" text-anchor="middle" fill="#000" stroke="#000" stroke-width="0.08">0.145</text>
<text transform="translate(354.98,27.44) rotate(0.06)" font-size="4.35" text-anchor="middle" fill="#000" stroke="#000" stroke-width="0.08">0.164</text>
<text transform="translate(395.73,27.44) rotate(0.06)" font-size="4.35" text-anchor="middle" fill="#000" stroke="#000" stroke-width="0.08">62</text>
<text transform="translate(250.70,27.53) rotate(0.06)" font-size="4.6" text-anchor="end" fill="#111">17</text>
<text transform="translate(273.48,33.04) rotate(0.06)" font-size="4.35" text-anchor="middle" fill="#fff" fill-opacity="0.88">0.925</text>
<text transform="translate(314.23,33.04) rotate(0.06)" font-size="4.35" text-anchor="middle" fill="#fff" fill-opacity="0.88">1.000</text>
<text transform="translate(354.98,33.04) rotate(0.06)" font-size="4.35" text-anchor="middle" fill="#fff" fill-opacity="0.88">0.961</text>
<text transform="translate(395.73,33.04) rotate(0.06)" font-size="4.35" text-anchor="middle" fill="#000" stroke="#000" stroke-width="0.08">245</text>
<text transform="translate(250.70,33.13) rotate(0.06)" font-size="4.6" text-anchor="end" fill="#111">16</text>
<text transform="translate(273.48,38.64) rotate(0.06)" font-size="4.35" text-anchor="middle" fill="#000" stroke="#000" stroke-width="0.08">0.000</text>
<text transform="translate(314.23,38.64) rotate(0.06)" font-size="4.35" text-anchor="middle" fill="#000" stroke="#000" stroke-width="0.08">0.000</text>
<text transform="translate(354.98,38.64) rotate(0.06)" font-size="4.35" text-anchor="middle" fill="#000" stroke="#000" stroke-width="0.08">0.000</text>
<text transform="translate(395.73,38.64) rotate(0.06)" font-size="4.35" text-anchor="middle" fill="#000" stroke="#000" stroke-width="0.08">19</text>
<text transform="translate(250.70,38.73) rotate(0.06)" font-size="4.6" text-anchor="end" fill="#111">15</text>
<text transform="translate(273.48,44.24) rotate(0.06)" font-size="4.35" text-anchor="middle" fill="#000" stroke="#000" stroke-width="0.08">0.429</text>
<text transform="translate(314.23,44.24) rotate(0.06)" font-size="4.35" text-anchor="middle" fill="#000" stroke="#000" stroke-width="0.08">0.429</text>
<text transform="translate(354.98,44.24) rotate(0.06)" font-size="4.35" text-anchor="middle" fill="#000" stroke="#000" stroke-width="0.08">0.429</text>
<text transform="translate(395.73,44.24) rotate(0.06)" font-size="4.35" text-anchor="middle" fill="#000" stroke="#000" stroke-width="0.08">14</text>
<text transform="translate(250.70,44.33) rotate(0.06)" font-size="4.6" text-anchor="end" fill="#111">14</text>
<text transform="translate(273.48,49.84) rotate(0.06)" font-size="4.35" text-anchor="middle" fill="#000" stroke="#000" stroke-width="0.08">0.169</text>
<text transform="translate(314.23,49.84) rotate(0.06)" font-size="4.35" text-anchor="middle" fill="#000" stroke="#000" stroke-width="0.08">0.125</text>
<text transform="translate(354.98,49.84) rotate(0.06)" font-size="4.35" text-anchor="middle" fill="#000" stroke="#000" stroke-width="0.08">0.144</text>
<text transform="translate(395.73,49.84) rotate(0.06)" font-size="4.35" text-anchor="middle" fill="#000" stroke="#000" stroke-width="0.08">80</text>
<text transform="translate(250.70,49.93) rotate(0.06)" font-size="4.6" text-anchor="end" fill="#111">13</text>
<text transform="translate(273.48,55.44) rotate(0.06)" font-size="4.35" text-anchor="middle" fill="#000" stroke="#000" stroke-width="0.08">0.600</text>
<text transform="translate(314.23,55.44) rotate(0.06)" font-size="4.35" text-anchor="middle" fill="#000" stroke="#000" stroke-width="0.08">0.158</text>
<text transform="translate(354.98,55.44) rotate(0.06)" font-size="4.35" text-anchor="middle" fill="#000" stroke="#000" stroke-width="0.08">0.250</text>
<text transform="translate(395.73,55.44) rotate(0.06)" font-size="4.35" text-anchor="middle" fill="#000" stroke="#000" stroke-width="0.08">19</text>
<text transform="translate(250.70,55.53) rotate(0.06)" font-size="4.6" text-anchor="end" fill="#111">12</text>
<text transform="translate(273.48,61.04) rotate(0.06)" font-size="4.35" text-anchor="middle" fill="#000" stroke="#000" stroke-width="0.08">0.148</text>
<text transform="translate(314.23,61.04) rotate(0.06)" font-size="4.35" text-anchor="middle" fill="#000" stroke="#000" stroke-width="0.08">0.114</text>
<text transform="translate(354.98,61.04) rotate(0.06)" font-size="4.35" text-anchor="middle" fill="#000" stroke="#000" stroke-width="0.08">0.129</text>
<text transform="translate(395.73,61.04) rotate(0.06)" font-size="4.35" text-anchor="middle" fill="#000" stroke="#000" stroke-width="0.08">35</text>
<text transform="translate(250.70,61.13) rotate(0.06)" font-size="4.6" text-anchor="end" fill="#111">11</text>
<text transform="translate(273.48,66.64) rotate(0.06)" font-size="4.35" text-anchor="middle" fill="#000" stroke="#000" stroke-width="0.08">0.000</text>
<text transform="translate(314.23,66.64) rotate(0.06)" font-size="4.35" text-anchor="middle" fill="#000" stroke="#000" stroke-width="0.08">0.000</text>
<text transform="translate(354.98,66.64) rotate(0.06)" font-size="4.35" text-anchor="middle" fill="#000" stroke="#000" stroke-width="0.08">0.000</text>
<text transform="translate(395.73,66.64) rotate(0.06)" font-size="4.35" text-anchor="middle" fill="#000" stroke="#000" stroke-width="0.08">21</text>
<text transform="translate(250.70,66.73) rotate(0.06)" font-size="4.6" text-anchor="end" fill="#111">10</text>
<text transform="translate(273.48,72.24) rotate(0.06)" font-size="4.35" text-anchor="middle" fill="#000" stroke="#000" stroke-width="0.08">0.167</text>
<text transform="translate(314.23,72.24) rotate(0.06)" font-size="4.35" text-anchor="middle" fill="#000" stroke="#000" stroke-width="0.08">0.200</text>
<text transform="translate(354.98,72.24) rotate(0.06)" font-size="4.35" text-anchor="middle" fill="#000" stroke="#000" stroke-width="0.08">0.182</text>
<text transform="translate(395.73,72.24) rotate(0.06)" font-size="4.35" text-anchor="middle" fill="#000" stroke="#000" stroke-width="0.08">50</text>
<text transform="translate(250.70,72.33) rotate(0.06)" font-size="4.6" text-anchor="end" fill="#111">9</text>
<text transform="translate(273.48,77.84) rotate(0.06)" font-size="4.35" text-anchor="middle" fill="#000" stroke="#000" stroke-width="0.08">0.000</text>
<text transform="translate(314.23,77.84) rotate(0.06)" font-size="4.35" text-anchor="middle" fill="#000" stroke="#000" stroke-width="0.08">0.000</text>
<text transform="translate(354.98,77.84) rotate(0.06)" font-size="4.35" text-anchor="middle" fill="#000" stroke="#000" stroke-width="0.08">0.000</text>
<text transform="translate(395.73,77.84) rotate(0.06)" font-size="4.35" text-anchor="middle" fill="#000" stroke="#000" stroke-width="0.08">18</text>
<text transform="translate(250.70,77.93) rotate(0.06)" font-size="4.6" text-anchor="end" fill="#111">8</text>
<text transform="translate(273.48,83.44) rotate(0.06)" font-size="4.35" text-anchor="middle" fill="#000" stroke="#000" stroke-width="0.08">0.000</text>
<text transform="translate(314.23,83.44) rotate(0.06)" font-size="4.35" text-anchor="middle" fill="#000" stroke="#000" stroke-width="0.08">0.000</text>
<text transform="translate(354.98,83.44) rotate(0.06)" font-size="4.35" text-anchor="middle" fill="#000" stroke="#000" stroke-width="0.08">0.000</text>
<text transform="translate(395.73,83.44) rotate(0.06)" font-size="4.35" text-anchor="middle" fill="#000" stroke="#000" stroke-width="0.08">20</text>
<text transform="translate(250.70,83.53) rotate(0.06)" font-size="4.6" text-anchor="end" fill="#111">7</text>
<text transform="translate(273.48,89.04) rotate(0.06)" font-size="4.35" text-anchor="middle" fill="#000" stroke="#000" stroke-width="0.08">0.093</text>
<text transform="translate(314.23,89.04) rotate(0.06)" font-size="4.35" text-anchor="middle" fill="#000" stroke="#000" stroke-width="0.08">0.069</text>
<text transform="translate(354.98,89.04) rotate(0.06)" font-size="4.35" text-anchor="middle" fill="#000" stroke="#000" stroke-width="0.08">0.079</text>
<text transform="translate(395.73,89.04) rotate(0.06)" font-size="4.35" text-anchor="middle" fill="#000" stroke="#000" stroke-width="0.08">58</text>
<text transform="translate(250.70,89.13) rotate(0.06)" font-size="4.6" text-anchor="end" fill="#111">6</text>
<text transform="translate(273.48,94.64) rotate(0.06)" font-size="4.35" text-anchor="middle" fill="#000" stroke="#000" stroke-width="0.08">0.188</text>
<text transform="translate(314.23,94.64) rotate(0.06)" font-size="4.35" text-anchor="middle" fill="#000" stroke="#000" stroke-width="0.08">0.140</text>
<text transform="translate(354.98,94.64) rotate(0.06)" font-size="4.35" text-anchor="middle" fill="#000" stroke="#000" stroke-width="0.08">0.161</text>
<text transform="translate(395.73,94.64) rotate(0.06)" font-size="4.35" text-anchor="middle" fill="#000" stroke="#000" stroke-width="0.08">50</text>
<text transform="translate(250.70,94.73) rotate(0.06)" font-size="4.6" text-anchor="end" fill="#111">5</text>
<text transform="translate(273.48,100.24) rotate(0.06)" font-size="4.35" text-anchor="middle" fill="#000" stroke="#000" stroke-width="0.08">0.071</text>
<text transform="translate(314.23,100.24) rotate(0.06)" font-size="4.35" text-anchor="middle" fill="#000" stroke="#000" stroke-width="0.08">0.059</text>
<text transform="translate(354.98,100.24) rotate(0.06)" font-size="4.35" text-anchor="middle" fill="#000" stroke="#000" stroke-width="0.08">0.065</text>
<text transform="translate(395.73,100.24) rotate(0.06)" font-size="4.35" text-anchor="middle" fill="#000" stroke="#000" stroke-width="0.08">17</text>
<text transform="translate(250.70,100.33) rotate(0.06)" font-size="4.6" text-anchor="end" fill="#111">4</text>
<text transform="translate(273.48,105.84) rotate(0.06)" font-size="4.35" text-anchor="middle" fill="#000" stroke="#000" stroke-width="0.08">0.000</text>
<text transform="translate(314.23,105.84) rotate(0.06)" font-size="4.35" text-anchor="middle" fill="#000" stroke="#000" stroke-width="0.08">0.000</text>
<text transform="translate(354.98,105.84) rotate(0.06)" font-size="4.35" text-anchor="middle" fill="#000" stroke="#000" stroke-width="0.08">0.000</text>
<text transform="translate(395.73,105.84) rotate(0.06)" font-size="4.35" text-anchor="middle" fill="#000" stroke="#000" stroke-width="0.08">22</text>
<text transform="translate(250.70,105.93) rotate(0.06)" font-size="4.6" text-anchor="end" fill="#111">3</text>
<text transform="translate(273.48,111.44) rotate(0.06)" font-size="4.35" text-anchor="middle" fill="#000" stroke="#000" stroke-width="0.08">0.118</text>
<text transform="translate(314.23,111.44) rotate(0.06)" font-size="4.35" text-anchor="middle" fill="#000" stroke="#000" stroke-width="0.08">0.083</text>
<text transform="translate(354.98,111.44) rotate(0.06)" font-size="4.35" text-anchor="middle" fill="#000" stroke="#000" stroke-width="0.08">0.098</text>
<text transform="translate(395.73,111.44) rotate(0.06)" font-size="4.35" text-anchor="middle" fill="#000" stroke="#000" stroke-width="0.08">24</text>
<text transform="translate(250.70,111.53) rotate(0.06)" font-size="4.6" text-anchor="end" fill="#111">2</text>
<text transform="translate(273.48,117.04) rotate(0.06)" font-size="4.35" text-anchor="middle" fill="#000" stroke="#000" stroke-width="0.08">0.223</text>
<text transform="translate(314.23,117.04) rotate(0.06)" font-size="4.35" text-anchor="middle" fill="#000" stroke="#000" stroke-width="0.08">0.267</text>
<text transform="translate(354.98,117.04) rotate(0.06)" font-size="4.35" text-anchor="middle" fill="#000" stroke="#000" stroke-width="0.08">0.243</text>
<text transform="translate(395.73,117.04) rotate(0.06)" font-size="4.35" text-anchor="middle" fill="#000" stroke="#000" stroke-width="0.08">116</text>
<text transform="translate(250.70,117.13) rotate(0.06)" font-size="4.6" text-anchor="end" fill="#111">1</text>
<text transform="translate(273.48,122.64) rotate(0.06)" font-size="4.35" text-anchor="middle" fill="#000" stroke="#000" stroke-width="0.08">0.115</text>
<text transform="translate(314.23,122.64) rotate(0.06)" font-size="4.35" text-anchor="middle" fill="#000" stroke="#000" stroke-width="0.08">0.133</text>
<text transform="translate(354.98,122.64) rotate(0.06)" font-size="4.35" text-anchor="middle" fill="#000" stroke="#000" stroke-width="0.08">0.123</text>
<text transform="translate(395.73,122.64) rotate(0.06)" font-size="4.35" text-anchor="middle" fill="#000" stroke="#000" stroke-width="0.08">83</text>
<text transform="translate(250.70,122.73) rotate(0.06)" font-size="4.6" text-anchor="end" fill="#111">0</text>
<text transform="translate(334.90,4.40) rotate(0.06)" font-size="4.6" text-anchor="middle" fill="#1a1a1a">LogisticRegression Classification Report</text>
<text transform="translate(273.48,135.55) rotate(-45)" y="1.38" font-size="4.6" text-anchor="middle" fill="#111">precision</text>
<text transform="translate(314.23,132.93) rotate(-45)" y="1.38" font-size="4.6" text-anchor="middle" fill="#111">recall</text>
<text transform="translate(354.98,130.40) rotate(-45)" y="1.38" font-size="4.6" text-anchor="middle" fill="#111">f1</text>
<text transform="translate(395.73,134.47) rotate(-45)" y="1.38" font-size="4.6" text-anchor="middle" fill="#111">support</text>
<rect x="426.10" y="6.30" width="5.7" height="13.12" fill="#800026"/>
<rect x="426.10" y="19.37" width="5.7" height="13.12" fill="#bd0026"/>
<rect x="426.10" y="32.43" width="5.7" height="13.12" fill="#e31a1c"/>
<rect x="426.10" y="45.50" width="5.7" height="13.12" fill="#fc4e2a"/>
<rect x="426.10" y="58.57" width="5.7" height="13.12" fill="#fd8d3c"/>
<rect x="426.10" y="71.63" width="5.7" height="13.12" fill="#feb24c"/>
<rect x="426.10" y="84.70" width="5.7" height="13.12" fill="#fed976"/>
<rect x="426.10" y="97.77" width="5.7" height="13.12" fill="#ffeda0"/>
<rect x="426.10" y="110.83" width="5.7" height="13.12" fill="#ffffcc"/>
<rect x="426.10" y="6.30" width="5.7" height="117.60" fill="none" stroke="#d8d8dc" stroke-width="0.4"/>
<text transform="translate(434.80,8.03) rotate(0.06)" font-size="3.75" text-anchor="start" fill="#111">1.0</text>
<text transform="translate(434.80,31.55) rotate(0.06)" font-size="3.75" text-anchor="start" fill="#111">0.8</text>
<text transform="translate(434.80,55.07) rotate(0.06)" font-size="3.75" text-anchor="start" fill="#111">0.6</text>
<text transform="translate(434.80,78.59) rotate(0.06)" font-size="3.75" text-anchor="start" fill="#111">0.4</text>
<text transform="translate(434.80,102.11) rotate(0.06)" font-size="3.75" text-anchor="start" fill="#111">0.2</text>
<text transform="translate(434.80,125.63) rotate(0.06)" font-size="3.75" text-anchor="start" fill="#111">0.0</text>
<text x="342.30" y="164.00" font-size="12" font-weight="bold" text-anchor="middle" fill="#111">(b)</text>
</g>
<g>
<rect x="497.70" y="6.30" width="40.80" height="5.65" fill="#fed976"/>
<rect x="538.45" y="6.30" width="40.80" height="5.65" fill="#fed976"/>
<rect x="579.20" y="6.30" width="40.80" height="5.65" fill="#fed976"/>
<rect x="619.95" y="6.30" width="40.80" height="5.65" fill="#ffffcc"/>
<rect x="497.70" y="11.90" width="40.80" height="5.65" fill="#feb24c"/>
<rect x="538.45" y="11.90" width="40.80" height="5.65" fill="#fed976"/>
<rect x="579.20" y="11.90" width="40.80" height="5.65" fill="#feb24c"/>
<rect x="619.95" y="11.90" width="40.80" height="5.65" fill="#ffeda0"/>
<rect x="497.70" y="17.50" width="40.80" height="5.65" fill="#ffeda0"/>
<rect x="538.45" y="17.50" width="40.80" height="5.65" fill="#ffeda0"/>
<rect x="579.20" y="17.50" width="40.80" height="5.65" fill="#ffeda0"/>
<rect x="619.95" y="17.50" width="40.80" height="5.65" fill="#ffffcc"/>
<rect x="497.70" y="23.10" width="40.80" height="5.65" fill="#ffeda0"/>
<rect x="538.45" y="23.10" width="40.80" height="5.65" fill="#fed976"/>
<rect x="579.20" y="23.10" width="40.80" height="5.65" fill="#fed976"/>
<rect x="619.95" y="23.10" width="40.80" height="5.65" fill="#ffffcc"/>
<rect x="497.70" y="28.70" width="40.80" height="5.65" fill="#800026"/>
<rect x="538.45" y="28.70" width="40.80" height="5.65" fill="#bd0026"/>
<rect x="579.20" y="28.70" width="40.80" height="5.65" fill="#800026"/>
<rect x="619.95" y="28.70" width="40.80" height="5.65" fill="#ffeda0"/>
<rect x="497.70" y="34.30" width="40.80" height="5.65" fill="#ffffcc"/>
<rect x="538.45" y="34.30" width="40.80" height="5.65" fill="#ffeda0"/>
<rect x="579.20" y="34.30" width="40.80" height="5.65" fill="#ffffcc"/>
<rect x="619.95" y="34.30" width="40.80" height="5.65" fill="#ffffcc"/>
<rect x="497.70" y="39.90" width="40.80" height="5.65" fill="#fd8d3c"/>
<rect x="538.45" y="39.90" width="40.80" height="5.65" fill="#fc4e2a"/>
<rect x="579.20" y="39.90" width="40.80" height="5.65" fill="#fd8d3c"/>
<rect x="619.95" y="39.90" width="40.80" height="5.65" fill="#ffffcc"/>
<rect x="497.70" y="45.50" width="40.80" height="5.65" fill="#ffeda0"/>
<rect x="538.45" y="45.50" width="40.80" height="5.65" fill="#ffeda0"/>
<rect x="579.20" y="45.50" width="40.80" height="5.65" fill="#ffeda0"/>
<rect x="619.95" y="45.50" width="40.80" height="5.65" fill="#ffffcc"/>
<rect x="497.70" y="51.10" width="40.80" height="5.65" fill="#fd8d3c"/>
<rect x="538.45" y="51.10" width="40.80" height="5.65" fill="#fd8d3c"/>
<rect x="579.20" y="51.10" width="40.80" height="5.65" fill="#fd8d3c"/>
<rect x="619.95" y="51.10" width="40.80" height="5.65" fill="#ffffcc"/>
<rect x="497.70" y="56.70" width="40.80" height="5.65" fill="#fed976"/>
<rect x="538.45" y="56.70" width="40.80" height="5.65" fill="#fed976"/>
<rect x="579.20" y="56.70" width="40.80" height="5.65" fill="#fed976"/>
<rect x="619.95" y="56.70" width="40.80" height="5.65" fill="#ffffcc"/>
<rect x="497.70" y="62.30" width="40.80" height="5.65" fill="#ffffcc"/>
<rect x="538.45" y="62.30" width="40.80" height="5.65" fill="#ffffcc"/>
<rect x="579.20" y="62.30" width="40.80" height="5.65" fill="#ffffcc"/>
<rect x="619.95" y="62.30" width="40.80" height="5.65" fill="#ffffcc"/>
<rect x="497.70" y="67.90" width="40.80" height="5.65" fill="#ffeda0"/>
<rect x="538.45" y="67.90" width="40.80" height="5.65" fill="#fed976"/>
<rect x="579.20" y="67.90" width="40.80" height="5.65" fill="#fed976"/>
<rect x="619.95" y="67.90" width="40.80" height="5.65" fill="#ffffcc"/>
<rect x="497.70" y="73.50" width="40.80" height="5.65" fill="#fed976"/>
<rect x="538.45" y="73.50" width="40.80" height="5.65" fill="#feb24c"/>
<rect x="579.20" y="73.50" width="40.80" height="5.65" fill="#fed976"/>
<rect x="619.95" y="73.50" width="40.80" height="5.65" fill="#ffffcc"/>
<rect x="497.70" y="79.10" width="40.80" height="5.65" fill="#ffffcc"/>
<rect x="538.45" y="79.10" width="40.80" height="5.65" fill="#ffffcc"/>
<rect x="579.20" y="79.10" width="40.80" height="5.65" fill="#ffffcc"/>
<rect x="619.95" y="79.10" width="40.80" height="5.65" fill="#ffffcc"/>
<rect x="497.70" y="84.70" width="40.80" height="5.65" fill="#ffffcc"/>
<rect x="538.45" y="84.70" width="40.80" height="5.65" fill="#ffffcc"/>
<rect x="579.20" y="84.70" width="40.80" height="5.65" fill="#ffffcc"/>
<rect x="619.95" y="84.70" width="40.80" height="5.65" fill="#ffffcc"/>
<rect x="497.70" y="90.30" width="40.80" height="5.65" fill="#fed976"/>
<rect x="538.45" y="90.30" width="40.80" height="5.65" fill="#ffeda0"/>
<rect x="579.20" y="90.30" width="40.80" height="5.65" fill="#ffeda0"/>
<rect x="619.95" y="90.30" width="40.80" height="5.65" fill="#ffffcc"/>
<rect x="497.70" y="95.90" width="40.80" height="5.65" fill="#ffffcc"/>
<rect x="538.45" y="95.90" width="40.80" height="5.65" fill="#ffeda0"/>
<rect x="579.20" y="95.90" width="40.80" height="5.65" fill="#ffffcc"/>
<rect x="619.95" y="95.90" width="40.80" height="5.65" fill="#ffffcc"/>
<rect x="497.70" y="101.50" width="40.80" height="5.65" fill="#ffeda0"/>
<rect x="538.45" y="101.50" width="40.80" height="5.65" fill="#ffffcc"/>
<rect x="579.20" y="101.50" width="40.80" height="5.65" fill="#ffffcc"/>
<rect x="619.95" y="101.50" width="40.80" height="5.65" fill="#ffffcc"/>
<rect x="497.70" y="107.10" width="40.80" height="5.65" fill="#fed976"/>
<rect x="538.45" y="107.10" width="40.80" height="5.65" fill="#fed976"/>
<rect x="579.20" y="107.10" width="40.80" height="5.65" fill="#fed976"/>
<rect x="619.95" y="107.10" width="40.80" height="5.65" fill="#ffffcc"/>
<rect x="497.70" y="112.70" width="40.80" height="5.65" fill="#ffeda0"/>
<rect x="538.45" y="112.70" width="40.80" height="5.65" fill="#feb24c"/>
<rect x="579.20" y="112.70" width="40.80" height="5.65" fill="#fed976"/>
<rect x="619.95" y="112.70" width="40.80" height="5.65" fill="#ffffcc"/>
<rect x="497.70" y="118.30" width="40.80" height="5.65" fill="#ffeda0"/>
<rect x="538.45" y="118.30" width="40.80" height="5.65" fill="#ffeda0"/>
<rect x="579.20" y="118.30" width="40.80" height="5.65" fill="#ffeda0"/>
<rect x="619.95" y="118.30" width="40.80" height="5.65" fill="#ffffcc"/>
<line x1="497.70" x2="660.70" y1="11.90" y2="11.90" stroke="#fff" stroke-width="0.5" stroke-opacity="0.85"/>
<line x1="497.70" x2="660.70" y1="17.50" y2="17.50" stroke="#fff" stroke-width="0.5" stroke-opacity="0.85"/>
<line x1="497.70" x2="660.70" y1="23.10" y2="23.10" stroke="#fff" stroke-width="0.5" stroke-opacity="0.85"/>
<line x1="497.70" x2="660.70" y1="28.70" y2="28.70" stroke="#fff" stroke-width="0.5" stroke-opacity="0.85"/>
<line x1="497.70" x2="660.70" y1="34.30" y2="34.30" stroke="#fff" stroke-width="0.5" stroke-opacity="0.85"/>
<line x1="497.70" x2="660.70" y1="39.90" y2="39.90" stroke="#fff" stroke-width="0.5" stroke-opacity="0.85"/>
<line x1="497.70" x2="660.70" y1="45.50" y2="45.50" stroke="#fff" stroke-width="0.5" stroke-opacity="0.85"/>
<line x1="497.70" x2="660.70" y1="51.10" y2="51.10" stroke="#fff" stroke-width="0.5" stroke-opacity="0.85"/>
<line x1="497.70" x2="660.70" y1="56.70" y2="56.70" stroke="#fff" stroke-width="0.5" stroke-opacity="0.85"/>
<line x1="497.70" x2="660.70" y1="62.30" y2="62.30" stroke="#fff" stroke-width="0.5" stroke-opacity="0.85"/>
<line x1="497.70" x2="660.70" y1="67.90" y2="67.90" stroke="#fff" stroke-width="0.5" stroke-opacity="0.85"/>
<line x1="497.70" x2="660.70" y1="73.50" y2="73.50" stroke="#fff" stroke-width="0.5" stroke-opacity="0.85"/>
<line x1="497.70" x2="660.70" y1="79.10" y2="79.10" stroke="#fff" stroke-width="0.5" stroke-opacity="0.85"/>
<line x1="497.70" x2="660.70" y1="84.70" y2="84.70" stroke="#fff" stroke-width="0.5" stroke-opacity="0.85"/>
<line x1="497.70" x2="660.70" y1="90.30" y2="90.30" stroke="#fff" stroke-width="0.5" stroke-opacity="0.85"/>
<line x1="497.70" x2="660.70" y1="95.90" y2="95.90" stroke="#fff" stroke-width="0.5" stroke-opacity="0.85"/>
<line x1="497.70" x2="660.70" y1="101.50" y2="101.50" stroke="#fff" stroke-width="0.5" stroke-opacity="0.85"/>
<line x1="497.70" x2="660.70" y1="107.10" y2="107.10" stroke="#fff" stroke-width="0.5" stroke-opacity="0.85"/>
<line x1="497.70" x2="660.70" y1="112.70" y2="112.70" stroke="#fff" stroke-width="0.5" stroke-opacity="0.85"/>
<line x1="497.70" x2="660.70" y1="118.30" y2="118.30" stroke="#fff" stroke-width="0.5" stroke-opacity="0.85"/>
<line x1="538.45" x2="538.45" y1="6.30" y2="123.90" stroke="#fff" stroke-width="0.5" stroke-opacity="0.85"/>
<line x1="579.20" x2="579.20" y1="6.30" y2="123.90" stroke="#fff" stroke-width="0.5" stroke-opacity="0.85"/>
<line x1="619.95" x2="619.95" y1="6.30" y2="123.90" stroke="#fff" stroke-width="0.5" stroke-opacity="0.85"/>
<rect x="497.70" y="6.30" width="163.00" height="117.60" fill="none" stroke="#d8d8dc" stroke-width="0.4"/>
<text transform="translate(518.08,10.64) rotate(0.06)" font-size="4.35" text-anchor="middle" fill="#000" stroke="#000" stroke-width="0.08">0.300</text>
<text transform="translate(558.83,10.64) rotate(0.06)" font-size="4.35" text-anchor="middle" fill="#000" stroke="#000" stroke-width="0.08">0.257</text>
<text transform="translate(599.58,10.64) rotate(0.06)" font-size="4.35" text-anchor="middle" fill="#000" stroke="#000" stroke-width="0.08">0.277</text>
<text transform="translate(640.33,10.64) rotate(0.06)" font-size="4.35" text-anchor="middle" fill="#000" stroke="#000" stroke-width="0.08">35</text>
<text transform="translate(495.30,10.73) rotate(0.06)" font-size="4.6" text-anchor="end" fill="#111">20</text>
<text transform="translate(518.08,16.24) rotate(0.06)" font-size="4.35" text-anchor="middle" fill="#000" stroke="#000" stroke-width="0.08">0.413</text>
<text transform="translate(558.83,16.24) rotate(0.06)" font-size="4.35" text-anchor="middle" fill="#000" stroke="#000" stroke-width="0.08">0.331</text>
<text transform="translate(599.58,16.24) rotate(0.06)" font-size="4.35" text-anchor="middle" fill="#000" stroke="#000" stroke-width="0.08">0.367</text>
<text transform="translate(640.33,16.24) rotate(0.06)" font-size="4.35" text-anchor="middle" fill="#000" stroke="#000" stroke-width="0.08">245</text>
<text transform="translate(495.30,16.33) rotate(0.06)" font-size="4.6" text-anchor="end" fill="#111">19</text>
<text transform="translate(518.08,21.84) rotate(0.06)" font-size="4.35" text-anchor="middle" fill="#000" stroke="#000" stroke-width="0.08">0.125</text>
<text transform="translate(558.83,21.84) rotate(0.06)" font-size="4.35" text-anchor="middle" fill="#000" stroke="#000" stroke-width="0.08">0.132</text>
<text transform="translate(599.58,21.84) rotate(0.06)" font-size="4.35" text-anchor="middle" fill="#000" stroke="#000" stroke-width="0.08">0.128</text>
<text transform="translate(640.33,21.84) rotate(0.06)" font-size="4.35" text-anchor="middle" fill="#000" stroke="#000" stroke-width="0.08">38</text>
<text transform="translate(495.30,21.93) rotate(0.06)" font-size="4.6" text-anchor="end" fill="#111">18</text>
<text transform="translate(518.08,27.44) rotate(0.06)" font-size="4.35" text-anchor="middle" fill="#000" stroke="#000" stroke-width="0.08">0.210</text>
<text transform="translate(558.83,27.44) rotate(0.06)" font-size="4.35" text-anchor="middle" fill="#000" stroke="#000" stroke-width="0.08">0.274</text>
<text transform="translate(599.58,27.44) rotate(0.06)" font-size="4.35" text-anchor="middle" fill="#000" stroke="#000" stroke-width="0.08">0.238</text>
<text transform="translate(640.33,27.44) rotate(0.06)" font-size="4.35" text-anchor="middle" fill="#000" stroke="#000" stroke-width="0.08">62</text>
<text transform="translate(495.30,27.53) rotate(0.06)" font-size="4.6" text-anchor="end" fill="#111">17</text>
<text transform="translate(518.08,33.04) rotate(0.06)" font-size="4.35" text-anchor="middle" fill="#fff" fill-opacity="0.88">0.967</text>
<text transform="translate(558.83,33.04) rotate(0.06)" font-size="4.35" text-anchor="middle" fill="#fff" fill-opacity="0.88">0.837</text>
<text transform="translate(599.58,33.04) rotate(0.06)" font-size="4.35" text-anchor="middle" fill="#fff" fill-opacity="0.88">0.897</text>
<text transform="translate(640.33,33.04) rotate(0.06)" font-size="4.35" text-anchor="middle" fill="#000" stroke="#000" stroke-width="0.08">245</text>
<text transform="translate(495.30,33.13) rotate(0.06)" font-size="4.6" text-anchor="end" fill="#111">16</text>
<text transform="translate(518.08,38.64) rotate(0.06)" font-size="4.35" text-anchor="middle" fill="#000" stroke="#000" stroke-width="0.08">0.091</text>
<text transform="translate(558.83,38.64) rotate(0.06)" font-size="4.35" text-anchor="middle" fill="#000" stroke="#000" stroke-width="0.08">0.125</text>
<text transform="translate(599.58,38.64) rotate(0.06)" font-size="4.35" text-anchor="middle" fill="#000" stroke="#000" stroke-width="0.08">0.105</text>
<text transform="translate(640.33,38.64) rotate(0.06)" font-size="4.35" text-anchor="middle" fill="#000" stroke="#000" stroke-width="0.08">19</text>
<text transform="translate(495.30,38.73) rotate(0.06)" font-size="4.6" text-anchor="end" fill="#111">15</text>
<text transform="translate(518.08,44.24) rotate(0.06)" font-size="4.35" text-anchor="middle" fill="#000" stroke="#000" stroke-width="0.08">0.538</text>
<text transform="translate(558.83,44.24) rotate(0.06)" font-size="4.35" text-anchor="middle" fill="#000" stroke="#000" stroke-width="0.08">0.571</text>
<text transform="translate(599.58,44.24) rotate(0.06)" font-size="4.35" text-anchor="middle" fill="#000" stroke="#000" stroke-width="0.08">0.552</text>
<text transform="translate(640.33,44.24) rotate(0.06)" font-size="4.35" text-anchor="middle" fill="#000" stroke="#000" stroke-width="0.08">14</text>
<text transform="translate(495.30,44.33) rotate(0.06)" font-size="4.6" text-anchor="end" fill="#111">14</text>
<text transform="translate(518.08,49.84) rotate(0.06)" font-size="4.35" text-anchor="middle" fill="#000" stroke="#000" stroke-width="0.08">0.219</text>
<text transform="translate(558.83,49.84) rotate(0.06)" font-size="4.35" text-anchor="middle" fill="#000" stroke="#000" stroke-width="0.08">0.175</text>
<text transform="translate(599.58,49.84) rotate(0.06)" font-size="4.35" text-anchor="middle" fill="#000" stroke="#000" stroke-width="0.08">0.194</text>
<text transform="translate(640.33,49.84) rotate(0.06)" font-size="4.35" text-anchor="middle" fill="#000" stroke="#000" stroke-width="0.08">80</text>
<text transform="translate(495.30,49.93) rotate(0.06)" font-size="4.6" text-anchor="end" fill="#111">13</text>
<text transform="translate(518.08,55.44) rotate(0.06)" font-size="4.35" text-anchor="middle" fill="#000" stroke="#000" stroke-width="0.08">0.526</text>
<text transform="translate(558.83,55.44) rotate(0.06)" font-size="4.35" text-anchor="middle" fill="#000" stroke="#000" stroke-width="0.08">0.526</text>
<text transform="translate(599.58,55.44) rotate(0.06)" font-size="4.35" text-anchor="middle" fill="#000" stroke="#000" stroke-width="0.08">0.526</text>
<text transform="translate(640.33,55.44) rotate(0.06)" font-size="4.35" text-anchor="middle" fill="#000" stroke="#000" stroke-width="0.08">19</text>
<text transform="translate(495.30,55.53) rotate(0.06)" font-size="4.6" text-anchor="end" fill="#111">12</text>
<text transform="translate(518.08,61.04) rotate(0.06)" font-size="4.35" text-anchor="middle" fill="#000" stroke="#000" stroke-width="0.08">0.233</text>
<text transform="translate(558.83,61.04) rotate(0.06)" font-size="4.35" text-anchor="middle" fill="#000" stroke="#000" stroke-width="0.08">0.286</text>
<text transform="translate(599.58,61.04) rotate(0.06)" font-size="4.35" text-anchor="middle" fill="#000" stroke="#000" stroke-width="0.08">0.256</text>
<text transform="translate(640.33,61.04) rotate(0.06)" font-size="4.35" text-anchor="middle" fill="#000" stroke="#000" stroke-width="0.08">35</text>
<text transform="translate(495.30,61.13) rotate(0.06)" font-size="4.6" text-anchor="end" fill="#111">11</text>
<text transform="translate(518.08,66.64) rotate(0.06)" font-size="4.35" text-anchor="middle" fill="#000" stroke="#000" stroke-width="0.08">0.040</text>
<text transform="translate(558.83,66.64) rotate(0.06)" font-size="4.35" text-anchor="middle" fill="#000" stroke="#000" stroke-width="0.08">0.048</text>
<text transform="translate(599.58,66.64) rotate(0.06)" font-size="4.35" text-anchor="middle" fill="#000" stroke="#000" stroke-width="0.08">0.043</text>
<text transform="translate(640.33,66.64) rotate(0.06)" font-size="4.35" text-anchor="middle" fill="#000" stroke="#000" stroke-width="0.08">21</text>
<text transform="translate(495.30,66.73) rotate(0.06)" font-size="4.6" text-anchor="end" fill="#111">10</text>
<text transform="translate(518.08,72.24) rotate(0.06)" font-size="4.35" text-anchor="middle" fill="#000" stroke="#000" stroke-width="0.08">0.203</text>
<text transform="translate(558.83,72.24) rotate(0.06)" font-size="4.35" text-anchor="middle" fill="#000" stroke="#000" stroke-width="0.08">0.300</text>
<text transform="translate(599.58,72.24) rotate(0.06)" font-size="4.35" text-anchor="middle" fill="#000" stroke="#000" stroke-width="0.08">0.242</text>
<text transform="translate(640.33,72.24) rotate(0.06)" font-size="4.35" text-anchor="middle" fill="#000" stroke="#000" stroke-width="0.08">50</text>
<text transform="translate(495.30,72.33) rotate(0.06)" font-size="4.6" text-anchor="end" fill="#111">9</text>
<text transform="translate(518.08,77.84) rotate(0.06)" font-size="4.35" text-anchor="middle" fill="#000" stroke="#000" stroke-width="0.08">0.273</text>
<text transform="translate(558.83,77.84) rotate(0.06)" font-size="4.35" text-anchor="middle" fill="#000" stroke="#000" stroke-width="0.08">0.333</text>
<text transform="translate(599.58,77.84) rotate(0.06)" font-size="4.35" text-anchor="middle" fill="#000" stroke="#000" stroke-width="0.08">0.300</text>
<text transform="translate(640.33,77.84) rotate(0.06)" font-size="4.35" text-anchor="middle" fill="#000" stroke="#000" stroke-width="0.08">18</text>
<text transform="translate(495.30,77.93) rotate(0.06)" font-size="4.6" text-anchor="end" fill="#111">8</text>
<text transform="translate(518.08,83.44) rotate(0.06)" font-size="4.35" text-anchor="middle" fill="#000" stroke="#000" stroke-width="0.08">0.000</text>
<text transform="translate(558.83,83.44) rotate(0.06)" font-size="4.35" text-anchor="middle" fill="#000" stroke="#000" stroke-width="0.08">0.000</text>
<text transform="translate(599.58,83.44) rotate(0.06)" font-size="4.35" text-anchor="middle" fill="#000" stroke="#000" stroke-width="0.08">0.000</text>
<text transform="translate(640.33,83.44) rotate(0.06)" font-size="4.35" text-anchor="middle" fill="#000" stroke="#000" stroke-width="0.08">20</text>
<text transform="translate(495.30,83.53) rotate(0.06)" font-size="4.6" text-anchor="end" fill="#111">7</text>
<text transform="translate(518.08,89.04) rotate(0.06)" font-size="4.35" text-anchor="middle" fill="#000" stroke="#000" stroke-width="0.08">0.089</text>
<text transform="translate(558.83,89.04) rotate(0.06)" font-size="4.35" text-anchor="middle" fill="#000" stroke="#000" stroke-width="0.08">0.069</text>
<text transform="translate(599.58,89.04) rotate(0.06)" font-size="4.35" text-anchor="middle" fill="#000" stroke="#000" stroke-width="0.08">0.078</text>
<text transform="translate(640.33,89.04) rotate(0.06)" font-size="4.35" text-anchor="middle" fill="#000" stroke="#000" stroke-width="0.08">58</text>
<text transform="translate(495.30,89.13) rotate(0.06)" font-size="4.6" text-anchor="end" fill="#111">6</text>
<text transform="translate(518.08,94.64) rotate(0.06)" font-size="4.35" text-anchor="middle" fill="#000" stroke="#000" stroke-width="0.08">0.257</text>
<text transform="translate(558.83,94.64) rotate(0.06)" font-size="4.35" text-anchor="middle" fill="#000" stroke="#000" stroke-width="0.08">0.180</text>
<text transform="translate(599.58,94.64) rotate(0.06)" font-size="4.35" text-anchor="middle" fill="#000" stroke="#000" stroke-width="0.08">0.212</text>
<text transform="translate(640.33,94.64) rotate(0.06)" font-size="4.35" text-anchor="middle" fill="#000" stroke="#000" stroke-width="0.08">50</text>
<text transform="translate(495.30,94.73) rotate(0.06)" font-size="4.6" text-anchor="end" fill="#111">5</text>
<text transform="translate(518.08,100.24) rotate(0.06)" font-size="4.35" text-anchor="middle" fill="#000" stroke="#000" stroke-width="0.08">0.080</text>
<text transform="translate(558.83,100.24) rotate(0.06)" font-size="4.35" text-anchor="middle" fill="#000" stroke="#000" stroke-width="0.08">0.118</text>
<text transform="translate(599.58,100.24) rotate(0.06)" font-size="4.35" text-anchor="middle" fill="#000" stroke="#000" stroke-width="0.08">0.095</text>
<text transform="translate(640.33,100.24) rotate(0.06)" font-size="4.35" text-anchor="middle" fill="#000" stroke="#000" stroke-width="0.08">17</text>
<text transform="translate(495.30,100.33) rotate(0.06)" font-size="4.6" text-anchor="end" fill="#111">4</text>
<text transform="translate(518.08,105.84) rotate(0.06)" font-size="4.35" text-anchor="middle" fill="#000" stroke="#000" stroke-width="0.08">0.133</text>
<text transform="translate(558.83,105.84) rotate(0.06)" font-size="4.35" text-anchor="middle" fill="#000" stroke="#000" stroke-width="0.08">0.091</text>
<text transform="translate(599.58,105.84) rotate(0.06)" font-size="4.35" text-anchor="middle" fill="#000" stroke="#000" stroke-width="0.08">0.108</text>
<text transform="translate(640.33,105.84) rotate(0.06)" font-size="4.35" text-anchor="middle" fill="#000" stroke="#000" stroke-width="0.08">22</text>
<text transform="translate(495.30,105.93) rotate(0.06)" font-size="4.6" text-anchor="end" fill="#111">3</text>
<text transform="translate(518.08,111.44) rotate(0.06)" font-size="4.35" text-anchor="middle" fill="#000" stroke="#000" stroke-width="0.08">0.250</text>
<text transform="translate(558.83,111.44) rotate(0.06)" font-size="4.35" text-anchor="middle" fill="#000" stroke="#000" stroke-width="0.08">0.292</text>
<text transform="translate(599.58,111.44) rotate(0.06)" font-size="4.35" text-anchor="middle" fill="#000" stroke="#000" stroke-width="0.08">0.269</text>
<text transform="translate(640.33,111.44) rotate(0.06)" font-size="4.35" text-anchor="middle" fill="#000" stroke="#000" stroke-width="0.08">24</text>
<text transform="translate(495.30,111.53) rotate(0.06)" font-size="4.6" text-anchor="end" fill="#111">2</text>
<text transform="translate(518.08,117.04) rotate(0.06)" font-size="4.35" text-anchor="middle" fill="#000" stroke="#000" stroke-width="0.08">0.221</text>
<text transform="translate(558.83,117.04) rotate(0.06)" font-size="4.35" text-anchor="middle" fill="#000" stroke="#000" stroke-width="0.08">0.362</text>
<text transform="translate(599.58,117.04) rotate(0.06)" font-size="4.35" text-anchor="middle" fill="#000" stroke="#000" stroke-width="0.08">0.275</text>
<text transform="translate(640.33,117.04) rotate(0.06)" font-size="4.35" text-anchor="middle" fill="#000" stroke="#000" stroke-width="0.08">116</text>
<text transform="translate(495.30,117.13) rotate(0.06)" font-size="4.6" text-anchor="end" fill="#111">1</text>
<text transform="translate(518.08,122.64) rotate(0.06)" font-size="4.35" text-anchor="middle" fill="#000" stroke="#000" stroke-width="0.08">0.167</text>
<text transform="translate(558.83,122.64) rotate(0.06)" font-size="4.35" text-anchor="middle" fill="#000" stroke="#000" stroke-width="0.08">0.145</text>
<text transform="translate(599.58,122.64) rotate(0.06)" font-size="4.35" text-anchor="middle" fill="#000" stroke="#000" stroke-width="0.08">0.155</text>
<text transform="translate(640.33,122.64) rotate(0.06)" font-size="4.35" text-anchor="middle" fill="#000" stroke="#000" stroke-width="0.08">83</text>
<text transform="translate(495.30,122.73) rotate(0.06)" font-size="4.6" text-anchor="end" fill="#111">0</text>
<text transform="translate(579.50,4.40) rotate(0.06)" font-size="4.6" text-anchor="middle" fill="#1a1a1a">GaussianNB Classification Report</text>
<text transform="translate(518.08,135.55) rotate(-45)" y="1.38" font-size="4.6" text-anchor="middle" fill="#111">precision</text>
<text transform="translate(558.83,132.93) rotate(-45)" y="1.38" font-size="4.6" text-anchor="middle" fill="#111">recall</text>
<text transform="translate(599.58,130.40) rotate(-45)" y="1.38" font-size="4.6" text-anchor="middle" fill="#111">f1</text>
<text transform="translate(640.33,134.47) rotate(-45)" y="1.38" font-size="4.6" text-anchor="middle" fill="#111">support</text>
<rect x="670.70" y="6.30" width="5.7" height="13.12" fill="#800026"/>
<rect x="670.70" y="19.37" width="5.7" height="13.12" fill="#bd0026"/>
<rect x="670.70" y="32.43" width="5.7" height="13.12" fill="#e31a1c"/>
<rect x="670.70" y="45.50" width="5.7" height="13.12" fill="#fc4e2a"/>
<rect x="670.70" y="58.57" width="5.7" height="13.12" fill="#fd8d3c"/>
<rect x="670.70" y="71.63" width="5.7" height="13.12" fill="#feb24c"/>
<rect x="670.70" y="84.70" width="5.7" height="13.12" fill="#fed976"/>
<rect x="670.70" y="97.77" width="5.7" height="13.12" fill="#ffeda0"/>
<rect x="670.70" y="110.83" width="5.7" height="13.12" fill="#ffffcc"/>
<rect x="670.70" y="6.30" width="5.7" height="117.60" fill="none" stroke="#d8d8dc" stroke-width="0.4"/>
<text transform="translate(679.40,8.03) rotate(0.06)" font-size="3.75" text-anchor="start" fill="#111">1.0</text>
<text transform="translate(679.40,31.55) rotate(0.06)" font-size="3.75" text-anchor="start" fill="#111">0.8</text>
<text transform="translate(679.40,55.07) rotate(0.06)" font-size="3.75" text-anchor="start" fill="#111">0.6</text>
<text transform="translate(679.40,78.59) rotate(0.06)" font-size="3.75" text-anchor="start" fill="#111">0.4</text>
<text transform="translate(679.40,102.11) rotate(0.06)" font-size="3.75" text-anchor="start" fill="#111">0.2</text>
<text transform="translate(679.40,125.63) rotate(0.06)" font-size="3.75" text-anchor="start" fill="#111">0.0</text>
<text x="586.90" y="164.00" font-size="12" font-weight="bold" text-anchor="middle" fill="#111">(c)</text>
</g>
<g>
<rect x="8.40" y="178.20" width="40.80" height="5.65" fill="#ffffcc"/>
<rect x="49.15" y="178.20" width="40.80" height="5.65" fill="#ffffcc"/>
<rect x="89.90" y="178.20" width="40.80" height="5.65" fill="#ffffcc"/>
<rect x="130.65" y="178.20" width="40.80" height="5.65" fill="#ffffcc"/>
<rect x="8.40" y="183.80" width="40.80" height="5.65" fill="#fed976"/>
<rect x="49.15" y="183.80" width="40.80" height="5.65" fill="#fd8d3c"/>
<rect x="89.90" y="183.80" width="40.80" height="5.65" fill="#feb24c"/>
<rect x="130.65" y="183.80" width="40.80" height="5.65" fill="#ffeda0"/>
<rect x="8.40" y="189.40" width="40.80" height="5.65" fill="#ffffcc"/>
<rect x="49.15" y="189.40" width="40.80" height="5.65" fill="#ffffcc"/>
<rect x="89.90" y="189.40" width="40.80" height="5.65" fill="#ffffcc"/>
<rect x="130.65" y="189.40" width="40.80" height="5.65" fill="#ffffcc"/>
<rect x="8.40" y="195.00" width="40.80" height="5.65" fill="#ffeda0"/>
<rect x="49.15" y="195.00" width="40.80" height="5.65" fill="#ffeda0"/>
<rect x="89.90" y="195.00" width="40.80" height="5.65" fill="#ffeda0"/>
<rect x="130.65" y="195.00" width="40.80" height="5.65" fill="#ffffcc"/>
<rect x="8.40" y="200.60" width="40.80" height="5.65" fill="#bd0026"/>
<rect x="49.15" y="200.60" width="40.80" height="5.65" fill="#800026"/>
<rect x="89.90" y="200.60" width="40.80" height="5.65" fill="#800026"/>
<rect x="130.65" y="200.60" width="40.80" height="5.65" fill="#ffeda0"/>
<rect x="8.40" y="206.20" width="40.80" height="5.65" fill="#ffffcc"/>
<rect x="49.15" y="206.20" width="40.80" height="5.65" fill="#ffffcc"/>
<rect x="89.90" y="206.20" width="40.80" height="5.65" fill="#ffffcc"/>
<rect x="130.65" y="206.20" width="40.80" height="5.65" fill="#ffffcc"/>
<rect x="8.40" y="211.80" width="40.80" height="5.65" fill="#feb24c"/>
<rect x="49.15" y="211.80" width="40.80" height="5.65" fill="#ffeda0"/>
<rect x="89.90" y="211.80" width="40.80" height="5.65" fill="#ffeda0"/>
<rect x="130.65" y="211.80" width="40.80" height="5.65" fill="#ffffcc"/>
<rect x="8.40" y="217.40" width="40.80" height="5.65" fill="#ffffcc"/>
<rect x="49.15" y="217.40" width="40.80" height="5.65" fill="#ffffcc"/>
<rect x="89.90" y="217.40" width="40.80" height="5.65" fill="#ffffcc"/>
<rect x="130.65" y="217.40" width="40.80" height="5.65" fill="#ffffcc"/>
<rect x="8.40" y="223.00" width="40.80" height="5.65" fill="#fd8d3c"/>
<rect x="49.15" y="223.00" width="40.80" height="5.65" fill="#ffffcc"/>
<rect x="89.90" y="223.00" width="40.80" height="5.65" fill="#ffffcc"/>
<rect x="130.65" y="223.00" width="40.80" height="5.65" fill="#ffffcc"/>
<rect x="8.40" y="228.60" width="40.80" height="5.65" fill="#ffffcc"/>
<rect x="49.15" y="228.60" width="40.80" height="5.65" fill="#ffffcc"/>
<rect x="89.90" y="228.60" width="40.80" height="5.65" fill="#ffffcc"/>
<rect x="130.65" y="228.60" width="40.80" height="5.65" fill="#ffffcc"/>
<rect x="8.40" y="234.20" width="40.80" height="5.65" fill="#ffffcc"/>
<rect x="49.15" y="234.20" width="40.80" height="5.65" fill="#ffffcc"/>
<rect x="89.90" y="234.20" width="40.80" height="5.65" fill="#ffffcc"/>
<rect x="130.65" y="234.20" width="40.80" height="5.65" fill="#ffffcc"/>
<rect x="8.40" y="239.80" width="40.80" height="5.65" fill="#ffffcc"/>
<rect x="49.15" y="239.80" width="40.80" height="5.65" fill="#ffffcc"/>
<rect x="89.90" y="239.80" width="40.80" height="5.65" fill="#ffffcc"/>
<rect x="130.65" y="239.80" width="40.80" height="5.65" fill="#ffffcc"/>
<rect x="8.40" y="245.40" width="40.80" height="5.65" fill="#ffffcc"/>
<rect x="49.15" y="245.40" width="40.80" height="5.65" fill="#ffffcc"/>
<rect x="89.90" y="245.40" width="40.80" height="5.65" fill="#ffffcc"/>
<rect x="130.65" y="245.40" width="40.80" height="5.65" fill="#ffffcc"/>
<rect x="8.40" y="251.00" width="40.80" height="5.65" fill="#ffffcc"/>
<rect x="49.15" y="251.00" width="40.80" height="5.65" fill="#ffffcc"/>
<rect x="89.90" y="251.00" width="40.80" height="5.65" fill="#ffffcc"/>
<rect x="130.65" y="251.00" width="40.80" height="5.65" fill="#ffffcc"/>
<rect x="8.40" y="256.60" width="40.80" height="5.65" fill="#ffffcc"/>
<rect x="49.15" y="256.60" width="40.80" height="5.65" fill="#ffffcc"/>
<rect x="89.90" y="256.60" width="40.80" height="5.65" fill="#ffffcc"/>
<rect x="130.65" y="256.60" width="40.80" height="5.65" fill="#ffffcc"/>
<rect x="8.40" y="262.20" width="40.80" height="5.65" fill="#ffffcc"/>
<rect x="49.15" y="262.20" width="40.80" height="5.65" fill="#ffffcc"/>
<rect x="89.90" y="262.20" width="40.80" height="5.65" fill="#ffffcc"/>
<rect x="130.65" y="262.20" width="40.80" height="5.65" fill="#ffffcc"/>
<rect x="8.40" y="267.80" width="40.80" height="5.65" fill="#ffffcc"/>
<rect x="49.15" y="267.80" width="40.80" height="5.65" fill="#ffffcc"/>
<rect x="89.90" y="267.80" width="40.80" height="5.65" fill="#ffffcc"/>
<rect x="130.65" y="267.80" width="40.80" height="5.65" fill="#ffffcc"/>
<rect x="8.40" y="273.40" width="40.80" height="5.65" fill="#ffffcc"/>
<rect x="49.15" y="273.40" width="40.80" height="5.65" fill="#ffffcc"/>
<rect x="89.90" y="273.40" width="40.80" height="5.65" fill="#ffffcc"/>
<rect x="130.65" y="273.40" width="40.80" height="5.65" fill="#ffffcc"/>
<rect x="8.40" y="279.00" width="40.80" height="5.65" fill="#ffffcc"/>
<rect x="49.15" y="279.00" width="40.80" height="5.65" fill="#ffffcc"/>
<rect x="89.90" y="279.00" width="40.80" height="5.65" fill="#ffffcc"/>
<rect x="130.65" y="279.00" width="40.80" height="5.65" fill="#ffffcc"/>
<rect x="8.40" y="284.60" width="40.80" height="5.65" fill="#ffeda0"/>
<rect x="49.15" y="284.60" width="40.80" height="5.65" fill="#fec862"/>
<rect x="89.90" y="284.60" width="40.80" height="5.65" fill="#fed976"/>
<rect x="130.65" y="284.60" width="40.80" height="5.65" fill="#ffffcc"/>
<rect x="8.40" y="290.20" width="40.80" height="5.65" fill="#ffffcc"/>
<rect x="49.15" y="290.20" width="40.80" height="5.65" fill="#ffffcc"/>
<rect x="89.90" y="290.20" width="40.80" height="5.65" fill="#ffffcc"/>
<rect x="130.65" y="290.20" width="40.80" height="5.65" fill="#ffffcc"/>
<line x1="8.40" x2="171.40" y1="183.80" y2="183.80" stroke="#fff" stroke-width="0.5" stroke-opacity="0.85"/>
<line x1="8.40" x2="171.40" y1="189.40" y2="189.40" stroke="#fff" stroke-width="0.5" stroke-opacity="0.85"/>
<line x1="8.40" x2="171.40" y1="195.00" y2="195.00" stroke="#fff" stroke-width="0.5" stroke-opacity="0.85"/>
<line x1="8.40" x2="171.40" y1="200.60" y2="200.60" stroke="#fff" stroke-width="0.5" stroke-opacity="0.85"/>
<line x1="8.40" x2="171.40" y1="206.20" y2="206.20" stroke="#fff" stroke-width="0.5" stroke-opacity="0.85"/>
<line x1="8.40" x2="171.40" y1="211.80" y2="211.80" stroke="#fff" stroke-width="0.5" stroke-opacity="0.85"/>
<line x1="8.40" x2="171.40" y1="217.40" y2="217.40" stroke="#fff" stroke-width="0.5" stroke-opacity="0.85"/>
<line x1="8.40" x2="171.40" y1="223.00" y2="223.00" stroke="#fff" stroke-width="0.5" stroke-opacity="0.85"/>
<line x1="8.40" x2="171.40" y1="228.60" y2="228.60" stroke="#fff" stroke-width="0.5" stroke-opacity="0.85"/>
<line x1="8.40" x2="171.40" y1="234.20" y2="234.20" stroke="#fff" stroke-width="0.5" stroke-opacity="0.85"/>
<line x1="8.40" x2="171.40" y1="239.80" y2="239.80" stroke="#fff" stroke-width="0.5" stroke-opacity="0.85"/>
<line x1="8.40" x2="171.40" y1="245.40" y2="245.40" stroke="#fff" stroke-width="0.5" stroke-opacity="0.85"/>
<line x1="8.40" x2="171.40" y1="251.00" y2="251.00" stroke="#fff" stroke-width="0.5" stroke-opacity="0.85"/>
<line x1="8.40" x2="171.40" y1="256.60" y2="256.60" stroke="#fff" stroke-width="0.5" stroke-opacity="0.85"/>
<line x1="8.40" x2="171.40" y1="262.20" y2="262.20" stroke="#fff" stroke-width="0.5" stroke-opacity="0.85"/>
<line x1="8.40" x2="171.40" y1="267.80" y2="267.80" stroke="#fff" stroke-width="0.5" stroke-opacity="0.85"/>
<line x1="8.40" x2="171.40" y1="273.40" y2="273.40" stroke="#fff" stroke-width="0.5" stroke-opacity="0.85"/>
<line x1="8.40" x2="171.40" y1="279.00" y2="279.00" stroke="#fff" stroke-width="0.5" stroke-opacity="0.85"/>
<line x1="8.40" x2="171.40" y1="284.60" y2="284.60" stroke="#fff" stroke-width="0.5" stroke-opacity="0.85"/>
<line x1="8.40" x2="171.40" y1="290.20" y2="290.20" stroke="#fff" stroke-width="0.5" stroke-opacity="0.85"/>
<line x1="49.15" x2="49.15" y1="178.20" y2="295.80" stroke="#fff" stroke-width="0.5" stroke-opacity="0.85"/>
<line x1="89.90" x2="89.90" y1="178.20" y2="295.80" stroke="#fff" stroke-width="0.5" stroke-opacity="0.85"/>
<line x1="130.65" x2="130.65" y1="178.20" y2="295.80" stroke="#fff" stroke-width="0.5" stroke-opacity="0.85"/>
<rect x="8.40" y="178.20" width="163.00" height="117.60" fill="none" stroke="#d8d8dc" stroke-width="0.4"/>
<text transform="translate(28.77,182.54) rotate(0.06)" font-size="4.35" text-anchor="middle" fill="#000" stroke="#000" stroke-width="0.08">0.000</text>
<text transform="translate(69.53,182.54) rotate(0.06)" font-size="4.35" text-anchor="middle" fill="#000" stroke="#000" stroke-width="0.08">0.000</text>
<text transform="translate(110.28,182.54) rotate(0.06)" font-size="4.35" text-anchor="middle" fill="#000" stroke="#000" stroke-width="0.08">0.000</text>
<text transform="translate(151.03,182.54) rotate(0.06)" font-size="4.35" text-anchor="middle" fill="#000" stroke="#000" stroke-width="0.08">35</text>
<text transform="translate(6.00,182.63) rotate(0.06)" font-size="4.6" text-anchor="end" fill="#111">20</text>
<text transform="translate(28.77,188.14) rotate(0.06)" font-size="4.35" text-anchor="middle" fill="#000" stroke="#000" stroke-width="0.08">0.321</text>
<text transform="translate(69.53,188.14) rotate(0.06)" font-size="4.35" text-anchor="middle" fill="#000" stroke="#000" stroke-width="0.08">0.502</text>
<text transform="translate(110.28,188.14) rotate(0.06)" font-size="4.35" text-anchor="middle" fill="#000" stroke="#000" stroke-width="0.08">0.392</text>
<text transform="translate(151.03,188.14) rotate(0.06)" font-size="4.35" text-anchor="middle" fill="#000" stroke="#000" stroke-width="0.08">245</text>
<text transform="translate(6.00,188.23) rotate(0.06)" font-size="4.6" text-anchor="end" fill="#111">19</text>
<text transform="translate(28.77,193.74) rotate(0.06)" font-size="4.35" text-anchor="middle" fill="#000" stroke="#000" stroke-width="0.08">0.065</text>
<text transform="translate(69.53,193.74) rotate(0.06)" font-size="4.35" text-anchor="middle" fill="#000" stroke="#000" stroke-width="0.08">0.053</text>
<text transform="translate(110.28,193.74) rotate(0.06)" font-size="4.35" text-anchor="middle" fill="#000" stroke="#000" stroke-width="0.08">0.058</text>
<text transform="translate(151.03,193.74) rotate(0.06)" font-size="4.35" text-anchor="middle" fill="#000" stroke="#000" stroke-width="0.08">38</text>
<text transform="translate(6.00,193.83) rotate(0.06)" font-size="4.6" text-anchor="end" fill="#111">18</text>
<text transform="translate(28.77,199.34) rotate(0.06)" font-size="4.35" text-anchor="middle" fill="#000" stroke="#000" stroke-width="0.08">0.191</text>
<text transform="translate(69.53,199.34) rotate(0.06)" font-size="4.35" text-anchor="middle" fill="#000" stroke="#000" stroke-width="0.08">0.210</text>
<text transform="translate(110.28,199.34) rotate(0.06)" font-size="4.35" text-anchor="middle" fill="#000" stroke="#000" stroke-width="0.08">0.200</text>
<text transform="translate(151.03,199.34) rotate(0.06)" font-size="4.35" text-anchor="middle" fill="#000" stroke="#000" stroke-width="0.08">62</text>
<text transform="translate(6.00,199.43) rotate(0.06)" font-size="4.6" text-anchor="end" fill="#111">17</text>
<text transform="translate(28.77,204.94) rotate(0.06)" font-size="4.35" text-anchor="middle" fill="#fff" fill-opacity="0.88">0.839</text>
<text transform="translate(69.53,204.94) rotate(0.06)" font-size="4.35" text-anchor="middle" fill="#fff" fill-opacity="0.88">0.959</text>
<text transform="translate(110.28,204.94) rotate(0.06)" font-size="4.35" text-anchor="middle" fill="#fff" fill-opacity="0.88">0.895</text>
<text transform="translate(151.03,204.94) rotate(0.06)" font-size="4.35" text-anchor="middle" fill="#000" stroke="#000" stroke-width="0.08">245</text>
<text transform="translate(6.00,205.03) rotate(0.06)" font-size="4.6" text-anchor="end" fill="#111">16</text>
<text transform="translate(28.77,210.54) rotate(0.06)" font-size="4.35" text-anchor="middle" fill="#000" stroke="#000" stroke-width="0.08">0.000</text>
<text transform="translate(69.53,210.54) rotate(0.06)" font-size="4.35" text-anchor="middle" fill="#000" stroke="#000" stroke-width="0.08">0.000</text>
<text transform="translate(110.28,210.54) rotate(0.06)" font-size="4.35" text-anchor="middle" fill="#000" stroke="#000" stroke-width="0.08">0.000</text>
<text transform="translate(151.03,210.54) rotate(0.06)" font-size="4.35" text-anchor="middle" fill="#000" stroke="#000" stroke-width="0.08">19</text>
<text transform="translate(6.00,210.63) rotate(0.06)" font-size="4.6" text-anchor="end" fill="#111">15</text>
<text transform="translate(28.77,216.14) rotate(0.06)" font-size="4.35" text-anchor="middle" fill="#000" stroke="#000" stroke-width="0.08">0.333</text>
<text transform="translate(69.53,216.14) rotate(0.06)" font-size="4.35" text-anchor="middle" fill="#000" stroke="#000" stroke-width="0.08">0.143</text>
<text transform="translate(110.28,216.14) rotate(0.06)" font-size="4.35" text-anchor="middle" fill="#000" stroke="#000" stroke-width="0.08">0.200</text>
<text transform="translate(151.03,216.14) rotate(0.06)" font-size="4.35" text-anchor="middle" fill="#000" stroke="#000" stroke-width="0.08">14</text>
<text transform="translate(6.00,216.23) rotate(0.06)" font-size="4.6" text-anchor="end" fill="#111">14</text>
<text transform="translate(28.77,221.74) rotate(0.06)" font-size="4.35" text-anchor="middle" fill="#000" stroke="#000" stroke-width="0.08">0.000</text>
<text transform="translate(69.53,221.74) rotate(0.06)" font-size="4.35" text-anchor="middle" fill="#000" stroke="#000" stroke-width="0.08">0.000</text>
<text transform="translate(110.28,221.74) rotate(0.06)" font-size="4.35" text-anchor="middle" fill="#000" stroke="#000" stroke-width="0.08">0.000</text>
<text transform="translate(151.03,221.74) rotate(0.06)" font-size="4.35" text-anchor="middle" fill="#000" stroke="#000" stroke-width="0.08">80</text>
<text transform="translate(6.00,221.83) rotate(0.06)" font-size="4.6" text-anchor="end" fill="#111">13</text>
<text transform="translate(28.77,227.34) rotate(0.06)" font-size="4.35" text-anchor="middle" fill="#000" stroke="#000" stroke-width="0.08">0.500</text>
<text transform="translate(69.53,227.34) rotate(0.06)" font-size="4.35" text-anchor="middle" fill="#000" stroke="#000" stroke-width="0.08">0.053</text>
<text transform="translate(110.28,227.34) rotate(0.06)" font-size="4.35" text-anchor="middle" fill="#000" stroke="#000" stroke-width="0.08">0.095</text>
<text transform="translate(151.03,227.34) rotate(0.06)" font-size="4.35" text-anchor="middle" fill="#000" stroke="#000" stroke-width="0.08">19</text>
<text transform="translate(6.00,227.43) rotate(0.06)" font-size="4.6" text-anchor="end" fill="#111">12</text>
<text transform="translate(28.77,232.94) rotate(0.06)" font-size="4.35" text-anchor="middle" fill="#000" stroke="#000" stroke-width="0.08">0.077</text>
<text transform="translate(69.53,232.94) rotate(0.06)" font-size="4.35" text-anchor="middle" fill="#000" stroke="#000" stroke-width="0.08">0.057</text>
<text transform="translate(110.28,232.94) rotate(0.06)" font-size="4.35" text-anchor="middle" fill="#000" stroke="#000" stroke-width="0.08">0.066</text>
<text transform="translate(151.03,232.94) rotate(0.06)" font-size="4.35" text-anchor="middle" fill="#000" stroke="#000" stroke-width="0.08">35</text>
<text transform="translate(6.00,233.03) rotate(0.06)" font-size="4.6" text-anchor="end" fill="#111">11</text>
<text transform="translate(28.77,238.54) rotate(0.06)" font-size="4.35" text-anchor="middle" fill="#000" stroke="#000" stroke-width="0.08">0.000</text>
<text transform="translate(69.53,238.54) rotate(0.06)" font-size="4.35" text-anchor="middle" fill="#000" stroke="#000" stroke-width="0.08">0.000</text>
<text transform="translate(110.28,238.54) rotate(0.06)" font-size="4.35" text-anchor="middle" fill="#000" stroke="#000" stroke-width="0.08">0.000</text>
<text transform="translate(151.03,238.54) rotate(0.06)" font-size="4.35" text-anchor="middle" fill="#000" stroke="#000" stroke-width="0.08">21</text>
<text transform="translate(6.00,238.63) rotate(0.06)" font-size="4.6" text-anchor="end" fill="#111">10</text>
<text transform="translate(28.77,244.14) rotate(0.06)" font-size="4.35" text-anchor="middle" fill="#000" stroke="#000" stroke-width="0.08">0.095</text>
<text transform="translate(69.53,244.14) rotate(0.06)" font-size="4.35" text-anchor="middle" fill="#000" stroke="#000" stroke-width="0.08">0.080</text>
<text transform="translate(110.28,244.14) rotate(0.06)" font-size="4.35" text-anchor="middle" fill="#000" stroke="#000" stroke-width="0.08">0.087</text>
<text transform="translate(151.03,244.14) rotate(0.06)" font-size="4.35" text-anchor="middle" fill="#000" stroke="#000" stroke-width="0.08">50</text>
<text transform="translate(6.00,244.23) rotate(0.06)" font-size="4.6" text-anchor="end" fill="#111">9</text>
<text transform="translate(28.77,249.74) rotate(0.06)" font-size="4.35" text-anchor="middle" fill="#000" stroke="#000" stroke-width="0.08">0.000</text>
<text transform="translate(69.53,249.74) rotate(0.06)" font-size="4.35" text-anchor="middle" fill="#000" stroke="#000" stroke-width="0.08">0.000</text>
<text transform="translate(110.28,249.74) rotate(0.06)" font-size="4.35" text-anchor="middle" fill="#000" stroke="#000" stroke-width="0.08">0.000</text>
<text transform="translate(151.03,249.74) rotate(0.06)" font-size="4.35" text-anchor="middle" fill="#000" stroke="#000" stroke-width="0.08">18</text>
<text transform="translate(6.00,249.83) rotate(0.06)" font-size="4.6" text-anchor="end" fill="#111">8</text>
<text transform="translate(28.77,255.34) rotate(0.06)" font-size="4.35" text-anchor="middle" fill="#000" stroke="#000" stroke-width="0.08">0.000</text>
<text transform="translate(69.53,255.34) rotate(0.06)" font-size="4.35" text-anchor="middle" fill="#000" stroke="#000" stroke-width="0.08">0.000</text>
<text transform="translate(110.28,255.34) rotate(0.06)" font-size="4.35" text-anchor="middle" fill="#000" stroke="#000" stroke-width="0.08">0.000</text>
<text transform="translate(151.03,255.34) rotate(0.06)" font-size="4.35" text-anchor="middle" fill="#000" stroke="#000" stroke-width="0.08">20</text>
<text transform="translate(6.00,255.43) rotate(0.06)" font-size="4.6" text-anchor="end" fill="#111">7</text>
<text transform="translate(28.77,260.94) rotate(0.06)" font-size="4.35" text-anchor="middle" fill="#000" stroke="#000" stroke-width="0.08">0.030</text>
<text transform="translate(69.53,260.94) rotate(0.06)" font-size="4.35" text-anchor="middle" fill="#000" stroke="#000" stroke-width="0.08">0.017</text>
<text transform="translate(110.28,260.94) rotate(0.06)" font-size="4.35" text-anchor="middle" fill="#000" stroke="#000" stroke-width="0.08">0.022</text>
<text transform="translate(151.03,260.94) rotate(0.06)" font-size="4.35" text-anchor="middle" fill="#000" stroke="#000" stroke-width="0.08">58</text>
<text transform="translate(6.00,261.03) rotate(0.06)" font-size="4.6" text-anchor="end" fill="#111">6</text>
<text transform="translate(28.77,266.54) rotate(0.06)" font-size="4.35" text-anchor="middle" fill="#000" stroke="#000" stroke-width="0.08">0.043</text>
<text transform="translate(69.53,266.54) rotate(0.06)" font-size="4.35" text-anchor="middle" fill="#000" stroke="#000" stroke-width="0.08">0.020</text>
<text transform="translate(110.28,266.54) rotate(0.06)" font-size="4.35" text-anchor="middle" fill="#000" stroke="#000" stroke-width="0.08">0.027</text>
<text transform="translate(151.03,266.54) rotate(0.06)" font-size="4.35" text-anchor="middle" fill="#000" stroke="#000" stroke-width="0.08">50</text>
<text transform="translate(6.00,266.63) rotate(0.06)" font-size="4.6" text-anchor="end" fill="#111">5</text>
<text transform="translate(28.77,272.14) rotate(0.06)" font-size="4.35" text-anchor="middle" fill="#000" stroke="#000" stroke-width="0.08">0.000</text>
<text transform="translate(69.53,272.14) rotate(0.06)" font-size="4.35" text-anchor="middle" fill="#000" stroke="#000" stroke-width="0.08">0.000</text>
<text transform="translate(110.28,272.14) rotate(0.06)" font-size="4.35" text-anchor="middle" fill="#000" stroke="#000" stroke-width="0.08">0.000</text>
<text transform="translate(151.03,272.14) rotate(0.06)" font-size="4.35" text-anchor="middle" fill="#000" stroke="#000" stroke-width="0.08">17</text>
<text transform="translate(6.00,272.23) rotate(0.06)" font-size="4.6" text-anchor="end" fill="#111">4</text>
<text transform="translate(28.77,277.74) rotate(0.06)" font-size="4.35" text-anchor="middle" fill="#000" stroke="#000" stroke-width="0.08">0.000</text>
<text transform="translate(69.53,277.74) rotate(0.06)" font-size="4.35" text-anchor="middle" fill="#000" stroke="#000" stroke-width="0.08">0.000</text>
<text transform="translate(110.28,277.74) rotate(0.06)" font-size="4.35" text-anchor="middle" fill="#000" stroke="#000" stroke-width="0.08">0.000</text>
<text transform="translate(151.03,277.74) rotate(0.06)" font-size="4.35" text-anchor="middle" fill="#000" stroke="#000" stroke-width="0.08">22</text>
<text transform="translate(6.00,277.83) rotate(0.06)" font-size="4.6" text-anchor="end" fill="#111">3</text>
<text transform="translate(28.77,283.34) rotate(0.06)" font-size="4.35" text-anchor="middle" fill="#000" stroke="#000" stroke-width="0.08">0.056</text>
<text transform="translate(69.53,283.34) rotate(0.06)" font-size="4.35" text-anchor="middle" fill="#000" stroke="#000" stroke-width="0.08">0.042</text>
<text transform="translate(110.28,283.34) rotate(0.06)" font-size="4.35" text-anchor="middle" fill="#000" stroke="#000" stroke-width="0.08">0.048</text>
<text transform="translate(151.03,283.34) rotate(0.06)" font-size="4.35" text-anchor="middle" fill="#000" stroke="#000" stroke-width="0.08">24</text>
<text transform="translate(6.00,283.43) rotate(0.06)" font-size="4.6" text-anchor="end" fill="#111">2</text>
<text transform="translate(28.77,288.94) rotate(0.06)" font-size="4.35" text-anchor="middle" fill="#000" stroke="#000" stroke-width="0.08">0.220</text>
<text transform="translate(69.53,288.94) rotate(0.06)" font-size="4.35" text-anchor="middle" fill="#000" stroke="#000" stroke-width="0.08">0.328</text>
<text transform="translate(110.28,288.94) rotate(0.06)" font-size="4.35" text-anchor="middle" fill="#000" stroke="#000" stroke-width="0.08">0.263</text>
<text transform="translate(151.03,288.94) rotate(0.06)" font-size="4.35" text-anchor="middle" fill="#000" stroke="#000" stroke-width="0.08">116</text>
<text transform="translate(6.00,289.03) rotate(0.06)" font-size="4.6" text-anchor="end" fill="#111">1</text>
<text transform="translate(28.77,294.54) rotate(0.06)" font-size="4.35" text-anchor="middle" fill="#000" stroke="#000" stroke-width="0.08">0.083</text>
<text transform="translate(69.53,294.54) rotate(0.06)" font-size="4.35" text-anchor="middle" fill="#000" stroke="#000" stroke-width="0.08">0.072</text>
<text transform="translate(110.28,294.54) rotate(0.06)" font-size="4.35" text-anchor="middle" fill="#000" stroke="#000" stroke-width="0.08">0.077</text>
<text transform="translate(151.03,294.54) rotate(0.06)" font-size="4.35" text-anchor="middle" fill="#000" stroke="#000" stroke-width="0.08">83</text>
<text transform="translate(6.00,294.63) rotate(0.06)" font-size="4.6" text-anchor="end" fill="#111">0</text>
<text transform="translate(90.20,176.30) rotate(0.06)" font-size="4.6" text-anchor="middle" fill="#1a1a1a">RandomForestClassifier Classification Report</text>
<text transform="translate(28.77,307.45) rotate(-45)" y="1.38" font-size="4.6" text-anchor="middle" fill="#111">precision</text>
<text transform="translate(69.53,304.83) rotate(-45)" y="1.38" font-size="4.6" text-anchor="middle" fill="#111">recall</text>
<text transform="translate(110.28,302.30) rotate(-45)" y="1.38" font-size="4.6" text-anchor="middle" fill="#111">f1</text>
<text transform="translate(151.03,306.37) rotate(-45)" y="1.38" font-size="4.6" text-anchor="middle" fill="#111">support</text>
<rect x="181.40" y="178.20" width="5.7" height="13.12" fill="#800026"/>
<rect x="181.40" y="191.27" width="5.7" height="13.12" fill="#bd0026"/>
<rect x="181.40" y="204.33" width="5.7" height="13.12" fill="#e31a1c"/>
<rect x="181.40" y="217.40" width="5.7" height="13.12" fill="#fc4e2a"/>
<rect x="181.40" y="230.47" width="5.7" height="13.12" fill="#fd8d3c"/>
<rect x="181.40" y="243.53" width="5.7" height="13.12" fill="#feb24c"/>
<rect x="181.40" y="256.60" width="5.7" height="13.12" fill="#fed976"/>
<rect x="181.40" y="269.67" width="5.7" height="13.12" fill="#ffeda0"/>
<rect x="181.40" y="282.73" width="5.7" height="13.12" fill="#ffffcc"/>
<rect x="181.40" y="178.20" width="5.7" height="117.60" fill="none" stroke="#d8d8dc" stroke-width="0.4"/>
<text transform="translate(190.10,179.93) rotate(0.06)" font-size="3.75" text-anchor="start" fill="#111">1.0</text>
<text transform="translate(190.10,203.45) rotate(0.06)" font-size="3.75" text-anchor="start" fill="#111">0.8</text>
<text transform="translate(190.10,226.97) rotate(0.06)" font-size="3.75" text-anchor="start" fill="#111">0.6</text>
<text transform="translate(190.10,250.49) rotate(0.06)" font-size="3.75" text-anchor="start" fill="#111">0.4</text>
<text transform="translate(190.10,274.01) rotate(0.06)" font-size="3.75" text-anchor="start" fill="#111">0.2</text>
<text transform="translate(190.10,297.53) rotate(0.06)" font-size="3.75" text-anchor="start" fill="#111">0.0</text>
<text x="97.60" y="335.90" font-size="12" font-weight="bold" text-anchor="middle" fill="#111">(d)</text>
</g>
<g>
<rect x="253.10" y="178.20" width="40.80" height="5.65" fill="#ffffcc"/>
<rect x="293.85" y="178.20" width="40.80" height="5.65" fill="#ffffcc"/>
<rect x="334.60" y="178.20" width="40.80" height="5.65" fill="#ffffcc"/>
<rect x="375.35" y="178.20" width="40.80" height="5.65" fill="#ffffcc"/>
<rect x="253.10" y="183.80" width="40.80" height="5.65" fill="#feb24c"/>
<rect x="293.85" y="183.80" width="40.80" height="5.65" fill="#fd8d3c"/>
<rect x="334.60" y="183.80" width="40.80" height="5.65" fill="#feb24c"/>
<rect x="375.35" y="183.80" width="40.80" height="5.65" fill="#ffeda0"/>
<rect x="253.10" y="189.40" width="40.80" height="5.65" fill="#ffeda0"/>
<rect x="293.85" y="189.40" width="40.80" height="5.65" fill="#ffffcc"/>
<rect x="334.60" y="189.40" width="40.80" height="5.65" fill="#ffffcc"/>
<rect x="375.35" y="189.40" width="40.80" height="5.65" fill="#ffffcc"/>
<rect x="253.10" y="195.00" width="40.80" height="5.65" fill="#fed976"/>
<rect x="293.85" y="195.00" width="40.80" height="5.65" fill="#fed976"/>
<rect x="334.60" y="195.00" width="40.80" height="5.65" fill="#fed976"/>
<rect x="375.35" y="195.00" width="40.80" height="5.65" fill="#ffffcc"/>
<rect x="253.10" y="200.60" width="40.80" height="5.65" fill="#800026"/>
<rect x="293.85" y="200.60" width="40.80" height="5.65" fill="#800026"/>
<rect x="334.60" y="200.60" width="40.80" height="5.65" fill="#800026"/>
<rect x="375.35" y="200.60" width="40.80" height="5.65" fill="#ffeda0"/>
<rect x="253.10" y="206.20" width="40.80" height="5.65" fill="#ffffcc"/>
<rect x="293.85" y="206.20" width="40.80" height="5.65" fill="#ffffcc"/>
<rect x="334.60" y="206.20" width="40.80" height="5.65" fill="#ffffcc"/>
<rect x="375.35" y="206.20" width="40.80" height="5.65" fill="#ffffcc"/>
<rect x="253.10" y="211.80" width="40.80" height="5.65" fill="#feb24c"/>
<rect x="293.85" y="211.80" width="40.80" height="5.65" fill="#ffeda0"/>
<rect x="334.60" y="211.80" width="40.80" height="5.65" fill="#fed976"/>
<rect x="375.35" y="211.80" width="40.80" height="5.65" fill="#ffffcc"/>
<rect x="253.10" y="217.40" width="40.80" height="5.65" fill="#ffeda0"/>
<rect x="293.85" y="217.40" width="40.80" height="5.65" fill="#ffffcc"/>
<rect x="334.60" y="217.40" width="40.80" height="5.65" fill="#ffffcc"/>
<rect x="375.35" y="217.40" width="40.80" height="5.65" fill="#ffffcc"/>
<rect x="253.10" y="223.00" width="40.80" height="5.65" fill="#fc4e2a"/>
<rect x="293.85" y="223.00" width="40.80" height="5.65" fill="#ffeda0"/>
<rect x="334.60" y="223.00" width="40.80" height="5.65" fill="#fed976"/>
<rect x="375.35" y="223.00" width="40.80" height="5.65" fill="#ffffcc"/>
<rect x="253.10" y="228.60" width="40.80" height="5.65" fill="#ffffcc"/>
<rect x="293.85" y="228.60" width="40.80" height="5.65" fill="#ffffcc"/>
<rect x="334.60" y="228.60" width="40.80" height="5.65" fill="#ffffcc"/>
<rect x="375.35" y="228.60" width="40.80" height="5.65" fill="#ffffcc"/>
<rect x="253.10" y="234.20" width="40.80" height="5.65" fill="#ffffcc"/>
<rect x="293.85" y="234.20" width="40.80" height="5.65" fill="#ffffcc"/>
<rect x="334.60" y="234.20" width="40.80" height="5.65" fill="#ffffcc"/>
<rect x="375.35" y="234.20" width="40.80" height="5.65" fill="#ffffcc"/>
<rect x="253.10" y="239.80" width="40.80" height="5.65" fill="#ffeda0"/>
<rect x="293.85" y="239.80" width="40.80" height="5.65" fill="#ffeda0"/>
<rect x="334.60" y="239.80" width="40.80" height="5.65" fill="#ffeda0"/>
<rect x="375.35" y="239.80" width="40.80" height="5.65" fill="#ffffcc"/>
<rect x="253.10" y="245.40" width="40.80" height="5.65" fill="#ffffcc"/>
<rect x="293.85" y="245.40" width="40.80" height="5.65" fill="#ffffcc"/>
<rect x="334.60" y="245.40" width="40.80" height="5.65" fill="#ffffcc"/>
<rect x="375.35" y="245.40" width="40.80" height="5.65" fill="#ffffcc"/>
<rect x="253.10" y="251.00" width="40.80" height="5.65" fill="#ffffcc"/>
<rect x="293.85" y="251.00" width="40.80" height="5.65" fill="#ffffcc"/>
<rect x="334.60" y="251.00" width="40.80" height="5.65" fill="#ffffcc"/>
<rect x="375.35" y="251.00" width="40.80" height="5.65" fill="#ffffcc"/>
<rect x="253.10" y="256.60" width="40.80" height="5.65" fill="#ffffcc"/>
<rect x="293.85" y="256.60" width="40.80" height="5.65" fill="#ffffcc"/>
<rect x="334.60" y="256.60" width="40.80" height="5.65" fill="#ffffcc"/>
<rect x="375.35" y="256.60" width="40.80" height="5.65" fill="#ffffcc"/>
<rect x="253.10" y="262.20" width="40.80" height="5.65" fill="#ffffcc"/>
<rect x="293.85" y="262.20" width="40.80" height="5.65" fill="#ffffcc"/>
<rect x="334.60" y="262.20" width="40.80" height="5.65" fill="#ffffcc"/>
<rect x="375.35" y="262.20" width="40.80" height="5.65" fill="#ffffcc"/>
<rect x="253.10" y="267.80" width="40.80" height="5.65" fill="#ffffcc"/>
<rect x="293.85" y="267.80" width="40.80" height="5.65" fill="#ffffcc"/>
<rect x="334.60" y="267.80" width="40.80" height="5.65" fill="#ffffcc"/>
<rect x="375.35" y="267.80" width="40.80" height="5.65" fill="#ffffcc"/>
<rect x="253.10" y="273.40" width="40.80" height="5.65" fill="#ffffcc"/>
<rect x="293.85" y="273.40" width="40.80" height="5.65" fill="#ffffcc"/>
<rect x="334.60" y="273.40" width="40.80" height="5.65" fill="#ffffcc"/>
<rect x="375.35" y="273.40" width="40.80" height="5.65" fill="#ffffcc"/>
<rect x="253.10" y="279.00" width="40.80" height="5.65" fill="#ffffcc"/>
<rect x="293.85" y="279.00" width="40.80" height="5.65" fill="#ffffcc"/>
<rect x="334.60" y="279.00" width="40.80" height="5.65" fill="#ffffcc"/>
<rect x="375.35" y="279.00" width="40.80" height="5.65" fill="#ffffcc"/>
<rect x="253.10" y="284.60" width="40.80" height="5.65" fill="#ffeda0"/>
<rect x="293.85" y="284.60" width="40.80" height="5.65" fill="#fec862"/>
<rect x="334.60" y="284.60" width="40.80" height="5.65" fill="#fed976"/>
<rect x="375.35" y="284.60" width="40.80" height="5.65" fill="#ffffcc"/>
<rect x="253.10" y="290.20" width="40.80" height="5.65" fill="#ffeda0"/>
<rect x="293.85" y="290.20" width="40.80" height="5.65" fill="#ffffcc"/>
<rect x="334.60" y="290.20" width="40.80" height="5.65" fill="#ffeda0"/>
<rect x="375.35" y="290.20" width="40.80" height="5.65" fill="#ffffcc"/>
<line x1="253.10" x2="416.10" y1="183.80" y2="183.80" stroke="#fff" stroke-width="0.5" stroke-opacity="0.85"/>
<line x1="253.10" x2="416.10" y1="189.40" y2="189.40" stroke="#fff" stroke-width="0.5" stroke-opacity="0.85"/>
<line x1="253.10" x2="416.10" y1="195.00" y2="195.00" stroke="#fff" stroke-width="0.5" stroke-opacity="0.85"/>
<line x1="253.10" x2="416.10" y1="200.60" y2="200.60" stroke="#fff" stroke-width="0.5" stroke-opacity="0.85"/>
<line x1="253.10" x2="416.10" y1="206.20" y2="206.20" stroke="#fff" stroke-width="0.5" stroke-opacity="0.85"/>
<line x1="253.10" x2="416.10" y1="211.80" y2="211.80" stroke="#fff" stroke-width="0.5" stroke-opacity="0.85"/>
<line x1="253.10" x2="416.10" y1="217.40" y2="217.40" stroke="#fff" stroke-width="0.5" stroke-opacity="0.85"/>
<line x1="253.10" x2="416.10" y1="223.00" y2="223.00" stroke="#fff" stroke-width="0.5" stroke-opacity="0.85"/>
<line x1="253.10" x2="416.10" y1="228.60" y2="228.60" stroke="#fff" stroke-width="0.5" stroke-opacity="0.85"/>
<line x1="253.10" x2="416.10" y1="234.20" y2="234.20" stroke="#fff" stroke-width="0.5" stroke-opacity="0.85"/>
<line x1="253.10" x2="416.10" y1="239.80" y2="239.80" stroke="#fff" stroke-width="0.5" stroke-opacity="0.85"/>
<line x1="253.10" x2="416.10" y1="245.40" y2="245.40" stroke="#fff" stroke-width="0.5" stroke-opacity="0.85"/>
<line x1="253.10" x2="416.10" y1="251.00" y2="251.00" stroke="#fff" stroke-width="0.5" stroke-opacity="0.85"/>
<line x1="253.10" x2="416.10" y1="256.60" y2="256.60" stroke="#fff" stroke-width="0.5" stroke-opacity="0.85"/>
<line x1="253.10" x2="416.10" y1="262.20" y2="262.20" stroke="#fff" stroke-width="0.5" stroke-opacity="0.85"/>
<line x1="253.10" x2="416.10" y1="267.80" y2="267.80" stroke="#fff" stroke-width="0.5" stroke-opacity="0.85"/>
<line x1="253.10" x2="416.10" y1="273.40" y2="273.40" stroke="#fff" stroke-width="0.5" stroke-opacity="0.85"/>
<line x1="253.10" x2="416.10" y1="279.00" y2="279.00" stroke="#fff" stroke-width="0.5" stroke-opacity="0.85"/>
<line x1="253.10" x2="416.10" y1="284.60" y2="284.60" stroke="#fff" stroke-width="0.5" stroke-opacity="0.85"/>
<line x1="253.10" x2="416.10" y1="290.20" y2="290.20" stroke="#fff" stroke-width="0.5" stroke-opacity="0.85"/>
<line x1="293.85" x2="293.85" y1="178.20" y2="295.80" stroke="#fff" stroke-width="0.5" stroke-opacity="0.85"/>
<line x1="334.60" x2="334.60" y1="178.20" y2="295.80" stroke="#fff" stroke-width="0.5" stroke-opacity="0.85"/>
<line x1="375.35" x2="375.35" y1="178.20" y2="295.80" stroke="#fff" stroke-width="0.5" stroke-opacity="0.85"/>
<rect x="253.10" y="178.20" width="163.00" height="117.60" fill="none" stroke="#d8d8dc" stroke-width="0.4"/>
<text transform="translate(273.48,182.54) rotate(0.06)" font-size="4.35" text-anchor="middle" fill="#000" stroke="#000" stroke-width="0.08">0.000</text>
<text transform="translate(314.23,182.54) rotate(0.06)" font-size="4.35" text-anchor="middle" fill="#000" stroke="#000" stroke-width="0.08">0.000</text>
<text transform="translate(354.98,182.54) rotate(0.06)" font-size="4.35" text-anchor="middle" fill="#000" stroke="#000" stroke-width="0.08">0.000</text>
<text transform="translate(395.73,182.54) rotate(0.06)" font-size="4.35" text-anchor="middle" fill="#000" stroke="#000" stroke-width="0.08">35</text>
<text transform="translate(250.70,182.63) rotate(0.06)" font-size="4.6" text-anchor="end" fill="#111">20</text>
<text transform="translate(273.48,188.14) rotate(0.06)" font-size="4.35" text-anchor="middle" fill="#000" stroke="#000" stroke-width="0.08">0.341</text>
<text transform="translate(314.23,188.14) rotate(0.06)" font-size="4.35" text-anchor="middle" fill="#000" stroke="#000" stroke-width="0.08">0.461</text>
<text transform="translate(354.98,188.14) rotate(0.06)" font-size="4.35" text-anchor="middle" fill="#000" stroke="#000" stroke-width="0.08">0.392</text>
<text transform="translate(395.73,188.14) rotate(0.06)" font-size="4.35" text-anchor="middle" fill="#000" stroke="#000" stroke-width="0.08">245</text>
<text transform="translate(250.70,188.23) rotate(0.06)" font-size="4.6" text-anchor="end" fill="#111">19</text>
<text transform="translate(273.48,193.74) rotate(0.06)" font-size="4.35" text-anchor="middle" fill="#000" stroke="#000" stroke-width="0.08">0.111</text>
<text transform="translate(314.23,193.74) rotate(0.06)" font-size="4.35" text-anchor="middle" fill="#000" stroke="#000" stroke-width="0.08">0.105</text>
<text transform="translate(354.98,193.74) rotate(0.06)" font-size="4.35" text-anchor="middle" fill="#000" stroke="#000" stroke-width="0.08">0.108</text>
<text transform="translate(395.73,193.74) rotate(0.06)" font-size="4.35" text-anchor="middle" fill="#000" stroke="#000" stroke-width="0.08">38</text>
<text transform="translate(250.70,193.83) rotate(0.06)" font-size="4.6" text-anchor="end" fill="#111">18</text>
<text transform="translate(273.48,199.34) rotate(0.06)" font-size="4.35" text-anchor="middle" fill="#000" stroke="#000" stroke-width="0.08">0.253</text>
<text transform="translate(314.23,199.34) rotate(0.06)" font-size="4.35" text-anchor="middle" fill="#000" stroke="#000" stroke-width="0.08">0.306</text>
<text transform="translate(354.98,199.34) rotate(0.06)" font-size="4.35" text-anchor="middle" fill="#000" stroke="#000" stroke-width="0.08">0.277</text>
<text transform="translate(395.73,199.34) rotate(0.06)" font-size="4.35" text-anchor="middle" fill="#000" stroke="#000" stroke-width="0.08">62</text>
<text transform="translate(250.70,199.43) rotate(0.06)" font-size="4.6" text-anchor="end" fill="#111">17</text>
<text transform="translate(273.48,204.94) rotate(0.06)" font-size="4.35" text-anchor="middle" fill="#fff" fill-opacity="0.88">0.899</text>
<text transform="translate(314.23,204.94) rotate(0.06)" font-size="4.35" text-anchor="middle" fill="#fff" fill-opacity="0.88">0.943</text>
<text transform="translate(354.98,204.94) rotate(0.06)" font-size="4.35" text-anchor="middle" fill="#fff" fill-opacity="0.88">0.920</text>
<text transform="translate(395.73,204.94) rotate(0.06)" font-size="4.35" text-anchor="middle" fill="#000" stroke="#000" stroke-width="0.08">245</text>
<text transform="translate(250.70,205.03) rotate(0.06)" font-size="4.6" text-anchor="end" fill="#111">16</text>
<text transform="translate(273.48,210.54) rotate(0.06)" font-size="4.35" text-anchor="middle" fill="#000" stroke="#000" stroke-width="0.08">0.000</text>
<text transform="translate(314.23,210.54) rotate(0.06)" font-size="4.35" text-anchor="middle" fill="#000" stroke="#000" stroke-width="0.08">0.000</text>
<text transform="translate(354.98,210.54) rotate(0.06)" font-size="4.35" text-anchor="middle" fill="#000" stroke="#000" stroke-width="0.08">0.000</text>
<text transform="translate(395.73,210.54) rotate(0.06)" font-size="4.35" text-anchor="middle" fill="#000" stroke="#000" stroke-width="0.08">19</text>
<text transform="translate(250.70,210.63) rotate(0.06)" font-size="4.6" text-anchor="end" fill="#111">15</text>
<text transform="translate(273.48,216.14) rotate(0.06)" font-size="4.35" text-anchor="middle" fill="#000" stroke="#000" stroke-width="0.08">0.375</text>
<text transform="translate(314.23,216.14) rotate(0.06)" font-size="4.35" text-anchor="middle" fill="#000" stroke="#000" stroke-width="0.08">0.214</text>
<text transform="translate(354.98,216.14) rotate(0.06)" font-size="4.35" text-anchor="middle" fill="#000" stroke="#000" stroke-width="0.08">0.273</text>
<text transform="translate(395.73,216.14) rotate(0.06)" font-size="4.35" text-anchor="middle" fill="#000" stroke="#000" stroke-width="0.08">14</text>
<text transform="translate(250.70,216.23) rotate(0.06)" font-size="4.6" text-anchor="end" fill="#111">14</text>
<text transform="translate(273.48,221.74) rotate(0.06)" font-size="4.35" text-anchor="middle" fill="#000" stroke="#000" stroke-width="0.08">0.133</text>
<text transform="translate(314.23,221.74) rotate(0.06)" font-size="4.35" text-anchor="middle" fill="#000" stroke="#000" stroke-width="0.08">0.075</text>
<text transform="translate(354.98,221.74) rotate(0.06)" font-size="4.35" text-anchor="middle" fill="#000" stroke="#000" stroke-width="0.08">0.096</text>
<text transform="translate(395.73,221.74) rotate(0.06)" font-size="4.35" text-anchor="middle" fill="#000" stroke="#000" stroke-width="0.08">80</text>
<text transform="translate(250.70,221.83) rotate(0.06)" font-size="4.6" text-anchor="end" fill="#111">13</text>
<text transform="translate(273.48,227.34) rotate(0.06)" font-size="4.35" text-anchor="middle" fill="#000" stroke="#000" stroke-width="0.08">0.571</text>
<text transform="translate(314.23,227.34) rotate(0.06)" font-size="4.35" text-anchor="middle" fill="#000" stroke="#000" stroke-width="0.08">0.211</text>
<text transform="translate(354.98,227.34) rotate(0.06)" font-size="4.35" text-anchor="middle" fill="#000" stroke="#000" stroke-width="0.08">0.308</text>
<text transform="translate(395.73,227.34) rotate(0.06)" font-size="4.35" text-anchor="middle" fill="#000" stroke="#000" stroke-width="0.08">19</text>
<text transform="translate(250.70,227.43) rotate(0.06)" font-size="4.6" text-anchor="end" fill="#111">12</text>
<text transform="translate(273.48,232.94) rotate(0.06)" font-size="4.35" text-anchor="middle" fill="#000" stroke="#000" stroke-width="0.08">0.080</text>
<text transform="translate(314.23,232.94) rotate(0.06)" font-size="4.35" text-anchor="middle" fill="#000" stroke="#000" stroke-width="0.08">0.057</text>
<text transform="translate(354.98,232.94) rotate(0.06)" font-size="4.35" text-anchor="middle" fill="#000" stroke="#000" stroke-width="0.08">0.067</text>
<text transform="translate(395.73,232.94) rotate(0.06)" font-size="4.35" text-anchor="middle" fill="#000" stroke="#000" stroke-width="0.08">35</text>
<text transform="translate(250.70,233.03) rotate(0.06)" font-size="4.6" text-anchor="end" fill="#111">11</text>
<text transform="translate(273.48,238.54) rotate(0.06)" font-size="4.35" text-anchor="middle" fill="#000" stroke="#000" stroke-width="0.08">0.000</text>
<text transform="translate(314.23,238.54) rotate(0.06)" font-size="4.35" text-anchor="middle" fill="#000" stroke="#000" stroke-width="0.08">0.000</text>
<text transform="translate(354.98,238.54) rotate(0.06)" font-size="4.35" text-anchor="middle" fill="#000" stroke="#000" stroke-width="0.08">0.000</text>
<text transform="translate(395.73,238.54) rotate(0.06)" font-size="4.35" text-anchor="middle" fill="#000" stroke="#000" stroke-width="0.08">21</text>
<text transform="translate(250.70,238.63) rotate(0.06)" font-size="4.6" text-anchor="end" fill="#111">10</text>
<text transform="translate(273.48,244.14) rotate(0.06)" font-size="4.35" text-anchor="middle" fill="#000" stroke="#000" stroke-width="0.08">0.120</text>
<text transform="translate(314.23,244.14) rotate(0.06)" font-size="4.35" text-anchor="middle" fill="#000" stroke="#000" stroke-width="0.08">0.120</text>
<text transform="translate(354.98,244.14) rotate(0.06)" font-size="4.35" text-anchor="middle" fill="#000" stroke="#000" stroke-width="0.08">0.120</text>
<text transform="translate(395.73,244.14) rotate(0.06)" font-size="4.35" text-anchor="middle" fill="#000" stroke="#000" stroke-width="0.08">50</text>
<text transform="translate(250.70,244.23) rotate(0.06)" font-size="4.6" text-anchor="end" fill="#111">9</text>
<text transform="translate(273.48,249.74) rotate(0.06)" font-size="4.35" text-anchor="middle" fill="#000" stroke="#000" stroke-width="0.08">0.000</text>
<text transform="translate(314.23,249.74) rotate(0.06)" font-size="4.35" text-anchor="middle" fill="#000" stroke="#000" stroke-width="0.08">0.000</text>
<text transform="translate(354.98,249.74) rotate(0.06)" font-size="4.35" text-anchor="middle" fill="#000" stroke="#000" stroke-width="0.08">0.000</text>
<text transform="translate(395.73,249.74) rotate(0.06)" font-size="4.35" text-anchor="middle" fill="#000" stroke="#000" stroke-width="0.08">18</text>
<text transform="translate(250.70,249.83) rotate(0.06)" font-size="4.6" text-anchor="end" fill="#111">8</text>
<text transform="translate(273.48,255.34) rotate(0.06)" font-size="4.35" text-anchor="middle" fill="#000" stroke="#000" stroke-width="0.08">0.000</text>
<text transform="translate(314.23,255.34) rotate(0.06)" font-size="4.35" text-anchor="middle" fill="#000" stroke="#000" stroke-width="0.08">0.000</text>
<text transform="translate(354.98,255.34) rotate(0.06)" font-size="4.35" text-anchor="middle" fill="#000" stroke="#000" stroke-width="0.08">0.000</text>
<text transform="translate(395.73,255.34) rotate(0.06)" font-size="4.35" text-anchor="middle" fill="#000" stroke="#000" stroke-width="0.08">20</text>
<text transform="translate(250.70,255.43) rotate(0.06)" font-size="4.6" text-anchor="end" fill="#111">7</text>
<text transform="translate(273.48,260.94) rotate(0.06)" font-size="4.35" text-anchor="middle" fill="#000" stroke="#000" stroke-width="0.08">0.048</text>
<text transform="translate(314.23,260.94) rotate(0.06)" font-size="4.35" text-anchor="middle" fill="#000" stroke="#000" stroke-width="0.08">0.034</text>
<text transform="translate(354.98,260.94) rotate(0.06)" font-size="4.35" text-anchor="middle" fill="#000" stroke="#000" stroke-width="0.08">0.040</text>
<text transform="translate(395.73,260.94) rotate(0.06)" font-size="4.35" text-anchor="middle" fill="#000" stroke="#000" stroke-width="0.08">58</text>
<text transform="translate(250.70,261.03) rotate(0.06)" font-size="4.6" text-anchor="end" fill="#111">6</text>
<text transform="translate(273.48,266.54) rotate(0.06)" font-size="4.35" text-anchor="middle" fill="#000" stroke="#000" stroke-width="0.08">0.048</text>
<text transform="translate(314.23,266.54) rotate(0.06)" font-size="4.35" text-anchor="middle" fill="#000" stroke="#000" stroke-width="0.08">0.020</text>
<text transform="translate(354.98,266.54) rotate(0.06)" font-size="4.35" text-anchor="middle" fill="#000" stroke="#000" stroke-width="0.08">0.028</text>
<text transform="translate(395.73,266.54) rotate(0.06)" font-size="4.35" text-anchor="middle" fill="#000" stroke="#000" stroke-width="0.08">50</text>
<text transform="translate(250.70,266.63) rotate(0.06)" font-size="4.6" text-anchor="end" fill="#111">5</text>
<text transform="translate(273.48,272.14) rotate(0.06)" font-size="4.35" text-anchor="middle" fill="#000" stroke="#000" stroke-width="0.08">0.000</text>
<text transform="translate(314.23,272.14) rotate(0.06)" font-size="4.35" text-anchor="middle" fill="#000" stroke="#000" stroke-width="0.08">0.000</text>
<text transform="translate(354.98,272.14) rotate(0.06)" font-size="4.35" text-anchor="middle" fill="#000" stroke="#000" stroke-width="0.08">0.000</text>
<text transform="translate(395.73,272.14) rotate(0.06)" font-size="4.35" text-anchor="middle" fill="#000" stroke="#000" stroke-width="0.08">17</text>
<text transform="translate(250.70,272.23) rotate(0.06)" font-size="4.6" text-anchor="end" fill="#111">4</text>
<text transform="translate(273.48,277.74) rotate(0.06)" font-size="4.35" text-anchor="middle" fill="#000" stroke="#000" stroke-width="0.08">0.000</text>
<text transform="translate(314.23,277.74) rotate(0.06)" font-size="4.35" text-anchor="middle" fill="#000" stroke="#000" stroke-width="0.08">0.000</text>
<text transform="translate(354.98,277.74) rotate(0.06)" font-size="4.35" text-anchor="middle" fill="#000" stroke="#000" stroke-width="0.08">0.000</text>
<text transform="translate(395.73,277.74) rotate(0.06)" font-size="4.35" text-anchor="middle" fill="#000" stroke="#000" stroke-width="0.08">22</text>
<text transform="translate(250.70,277.83) rotate(0.06)" font-size="4.6" text-anchor="end" fill="#111">3</text>
<text transform="translate(273.48,283.34) rotate(0.06)" font-size="4.35" text-anchor="middle" fill="#000" stroke="#000" stroke-width="0.08">0.105</text>
<text transform="translate(314.23,283.34) rotate(0.06)" font-size="4.35" text-anchor="middle" fill="#000" stroke="#000" stroke-width="0.08">0.083</text>
<text transform="translate(354.98,283.34) rotate(0.06)" font-size="4.35" text-anchor="middle" fill="#000" stroke="#000" stroke-width="0.08">0.093</text>
<text transform="translate(395.73,283.34) rotate(0.06)" font-size="4.35" text-anchor="middle" fill="#000" stroke="#000" stroke-width="0.08">24</text>
<text transform="translate(250.70,283.43) rotate(0.06)" font-size="4.6" text-anchor="end" fill="#111">2</text>
<text transform="translate(273.48,288.94) rotate(0.06)" font-size="4.35" text-anchor="middle" fill="#000" stroke="#000" stroke-width="0.08">0.202</text>
<text transform="translate(314.23,288.94) rotate(0.06)" font-size="4.35" text-anchor="middle" fill="#000" stroke="#000" stroke-width="0.08">0.328</text>
<text transform="translate(354.98,288.94) rotate(0.06)" font-size="4.35" text-anchor="middle" fill="#000" stroke="#000" stroke-width="0.08">0.250</text>
<text transform="translate(395.73,288.94) rotate(0.06)" font-size="4.35" text-anchor="middle" fill="#000" stroke="#000" stroke-width="0.08">116</text>
<text transform="translate(250.70,289.03) rotate(0.06)" font-size="4.6" text-anchor="end" fill="#111">1</text>
<text transform="translate(273.48,294.54) rotate(0.06)" font-size="4.35" text-anchor="middle" fill="#000" stroke="#000" stroke-width="0.08">0.118</text>
<text transform="translate(314.23,294.54) rotate(0.06)" font-size="4.35" text-anchor="middle" fill="#000" stroke="#000" stroke-width="0.08">0.108</text>
<text transform="translate(354.98,294.54) rotate(0.06)" font-size="4.35" text-anchor="middle" fill="#000" stroke="#000" stroke-width="0.08">0.113</text>
<text transform="translate(395.73,294.54) rotate(0.06)" font-size="4.35" text-anchor="middle" fill="#000" stroke="#000" stroke-width="0.08">83</text>
<text transform="translate(250.70,294.63) rotate(0.06)" font-size="4.6" text-anchor="end" fill="#111">0</text>
<text transform="translate(334.90,176.30) rotate(0.06)" font-size="4.6" text-anchor="middle" fill="#1a1a1a">XGBClassifier Classification Report</text>
<text transform="translate(273.48,307.45) rotate(-45)" y="1.38" font-size="4.6" text-anchor="middle" fill="#111">precision</text>
<text transform="translate(314.23,304.83) rotate(-45)" y="1.38" font-size="4.6" text-anchor="middle" fill="#111">recall</text>
<text transform="translate(354.98,302.30) rotate(-45)" y="1.38" font-size="4.6" text-anchor="middle" fill="#111">f1</text>
<text transform="translate(395.73,306.37) rotate(-45)" y="1.38" font-size="4.6" text-anchor="middle" fill="#111">support</text>
<rect x="426.10" y="178.20" width="5.7" height="13.12" fill="#800026"/>
<rect x="426.10" y="191.27" width="5.7" height="13.12" fill="#bd0026"/>
<rect x="426.10" y="204.33" width="5.7" height="13.12" fill="#e31a1c"/>
<rect x="426.10" y="217.40" width="5.7" height="13.12" fill="#fc4e2a"/>
<rect x="426.10" y="230.47" width="5.7" height="13.12" fill="#fd8d3c"/>
<rect x="426.10" y="243.53" width="5.7" height="13.12" fill="#feb24c"/>
<rect x="426.10" y="256.60" width="5.7" height="13.12" fill="#fed976"/>
<rect x="426.10" y="269.67" width="5.7" height="13.12" fill="#ffeda0"/>
<rect x="426.10" y="282.73" width="5.7" height="13.12" fill="#ffffcc"/>
<rect x="426.10" y="178.20" width="5.7" height="117.60" fill="none" stroke="#d8d8dc" stroke-width="0.4"/>
<text transform="translate(434.80,179.93) rotate(0.06)" font-size="3.75" text-anchor="start" fill="#111">1.0</text>
<text transform="translate(434.80,203.45) rotate(0.06)" font-size="3.75" text-anchor="start" fill="#111">0.8</text>
<text transform="translate(434.80,226.97) rotate(0.06)" font-size="3.75" text-anchor="start" fill="#111">0.6</text>
<text transform="translate(434.80,250.49) rotate(0.06)" font-size="3.75" text-anchor="start" fill="#111">0.4</text>
<text transform="translate(434.80,274.01) rotate(0.06)" font-size="3.75" text-anchor="start" fill="#111">0.2</text>
<text transform="translate(434.80,297.53) rotate(0.06)" font-size="3.75" text-anchor="start" fill="#111">0.0</text>
<text x="342.30" y="335.90" font-size="12" font-weight="bold" text-anchor="middle" fill="#111">(e)</text>
</g>
<g>
<rect x="497.70" y="178.20" width="40.80" height="5.65" fill="#ffeda0"/>
<rect x="538.45" y="178.20" width="40.80" height="5.65" fill="#ffeda0"/>
<rect x="579.20" y="178.20" width="40.80" height="5.65" fill="#ffeda0"/>
<rect x="619.95" y="178.20" width="40.80" height="5.65" fill="#ffffcc"/>
<rect x="497.70" y="183.80" width="40.80" height="5.65" fill="#fed976"/>
<rect x="538.45" y="183.80" width="40.80" height="5.65" fill="#feb24c"/>
<rect x="579.20" y="183.80" width="40.80" height="5.65" fill="#feb24c"/>
<rect x="619.95" y="183.80" width="40.80" height="5.65" fill="#ffeda0"/>
<rect x="497.70" y="189.40" width="40.80" height="5.65" fill="#ffffcc"/>
<rect x="538.45" y="189.40" width="40.80" height="5.65" fill="#ffffcc"/>
<rect x="579.20" y="189.40" width="40.80" height="5.65" fill="#ffffcc"/>
<rect x="619.95" y="189.40" width="40.80" height="5.65" fill="#ffffcc"/>
<rect x="497.70" y="195.00" width="40.80" height="5.65" fill="#ffeda0"/>
<rect x="538.45" y="195.00" width="40.80" height="5.65" fill="#fed976"/>
<rect x="579.20" y="195.00" width="40.80" height="5.65" fill="#ffeda0"/>
<rect x="619.95" y="195.00" width="40.80" height="5.65" fill="#ffffcc"/>
<rect x="497.70" y="200.60" width="40.80" height="5.65" fill="#800026"/>
<rect x="538.45" y="200.60" width="40.80" height="5.65" fill="#800026"/>
<rect x="579.20" y="200.60" width="40.80" height="5.65" fill="#800026"/>
<rect x="619.95" y="200.60" width="40.80" height="5.65" fill="#ffeda0"/>
<rect x="497.70" y="206.20" width="40.80" height="5.65" fill="#ffffcc"/>
<rect x="538.45" y="206.20" width="40.80" height="5.65" fill="#ffffcc"/>
<rect x="579.20" y="206.20" width="40.80" height="5.65" fill="#ffffcc"/>
<rect x="619.95" y="206.20" width="40.80" height="5.65" fill="#ffffcc"/>
<rect x="497.70" y="211.80" width="40.80" height="5.65" fill="#fc4e2a"/>
<rect x="538.45" y="211.80" width="40.80" height="5.65" fill="#e31a1c"/>
<rect x="579.20" y="211.80" width="40.80" height="5.65" fill="#fc4e2a"/>
<rect x="619.95" y="211.80" width="40.80" height="5.65" fill="#ffffcc"/>
<rect x="497.70" y="217.40" width="40.80" height="5.65" fill="#fed976"/>
<rect x="538.45" y="217.40" width="40.80" height="5.65" fill="#ffeda0"/>
<rect x="579.20" y="217.40" width="40.80" height="5.65" fill="#ffeda0"/>
<rect x="619.95" y="217.40" width="40.80" height="5.65" fill="#ffffcc"/>
<rect x="497.70" y="223.00" width="40.80" height="5.65" fill="#fc4e2a"/>
<rect x="538.45" y="223.00" width="40.80" height="5.65" fill="#ffeda0"/>
<rect x="579.20" y="223.00" width="40.80" height="5.65" fill="#fed976"/>
<rect x="619.95" y="223.00" width="40.80" height="5.65" fill="#ffffcc"/>
<rect x="497.70" y="228.60" width="40.80" height="5.65" fill="#fed976"/>
<rect x="538.45" y="228.60" width="40.80" height="5.65" fill="#fed976"/>
<rect x="579.20" y="228.60" width="40.80" height="5.65" fill="#fed976"/>
<rect x="619.95" y="228.60" width="40.80" height="5.65" fill="#ffffcc"/>
<rect x="497.70" y="234.20" width="40.80" height="5.65" fill="#ffffcc"/>
<rect x="538.45" y="234.20" width="40.80" height="5.65" fill="#ffffcc"/>
<rect x="579.20" y="234.20" width="40.80" height="5.65" fill="#ffffcc"/>
<rect x="619.95" y="234.20" width="40.80" height="5.65" fill="#ffffcc"/>
<rect x="497.70" y="239.80" width="40.80" height="5.65" fill="#ffeda0"/>
<rect x="538.45" y="239.80" width="40.80" height="5.65" fill="#ffeda0"/>
<rect x="579.20" y="239.80" width="40.80" height="5.65" fill="#ffeda0"/>
<rect x="619.95" y="239.80" width="40.80" height="5.65" fill="#ffffcc"/>
<rect x="497.70" y="245.40" width="40.80" height="5.65" fill="#ffffcc"/>
<rect x="538.45" y="245.40" width="40.80" height="5.65" fill="#ffffcc"/>
<rect x="579.20" y="245.40" width="40.80" height="5.65" fill="#ffffcc"/>
<rect x="619.95" y="245.40" width="40.80" height="5.65" fill="#ffffcc"/>
<rect x="497.70" y="251.00" width="40.80" height="5.65" fill="#ffffcc"/>
<rect x="538.45" y="251.00" width="40.80" height="5.65" fill="#ffffcc"/>
<rect x="579.20" y="251.00" width="40.80" height="5.65" fill="#ffffcc"/>
<rect x="619.95" y="251.00" width="40.80" height="5.65" fill="#ffffcc"/>
<rect x="497.70" y="256.60" width="40.80" height="5.65" fill="#ffeda0"/>
<rect x="538.45" y="256.60" width="40.80" height="5.65" fill="#ffeda0"/>
<rect x="579.20" y="256.60" width="40.80" height="5.65" fill="#ffeda0"/>
<rect x="619.95" y="256.60" width="40.80" height="5.65" fill="#ffffcc"/>
<rect x="497.70" y="262.20" width="40.80" height="5.65" fill="#ffeda0"/>
<rect x="538.45" y="262.20" width="40.80" height="5.65" fill="#ffeda0"/>
<rect x="579.20" y="262.20" width="40.80" height="5.65" fill="#ffeda0"/>
<rect x="619.95" y="262.20" width="40.80" height="5.65" fill="#ffffcc"/>
<rect x="497.70" y="267.80" width="40.80" height="5.65" fill="#ffffcc"/>
<rect x="538.45" y="267.80" width="40.80" height="5.65" fill="#ffffcc"/>
<rect x="579.20" y="267.80" width="40.80" height="5.65" fill="#ffffcc"/>
<rect x="619.95" y="267.80" width="40.80" height="5.65" fill="#ffffcc"/>
<rect x="497.70" y="273.40" width="40.80" height="5.65" fill="#ffffcc"/>
<rect x="538.45" y="273.40" width="40.80" height="5.65" fill="#ffffcc"/>
<rect x="579.20" y="273.40" width="40.80" height="5.65" fill="#ffffcc"/>
<rect x="619.95" y="273.40" width="40.80" height="5.65" fill="#ffffcc"/>
<rect x="497.70" y="279.00" width="40.80" height="5.65" fill="#ffffcc"/>
<rect x="538.45" y="279.00" width="40.80" height="5.65" fill="#ffffcc"/>
<rect x="579.20" y="279.00" width="40.80" height="5.65" fill="#ffffcc"/>
<rect x="619.95" y="279.00" width="40.80" height="5.65" fill="#ffffcc"/>
<rect x="497.70" y="284.60" width="40.80" height="5.65" fill="#ffeda0"/>
<rect x="538.45" y="284.60" width="40.80" height="5.65" fill="#ffeda0"/>
<rect x="579.20" y="284.60" width="40.80" height="5.65" fill="#ffeda0"/>
<rect x="619.95" y="284.60" width="40.80" height="5.65" fill="#ffffcc"/>
<rect x="497.70" y="290.20" width="40.80" height="5.65" fill="#ffeda0"/>
<rect x="538.45" y="290.20" width="40.80" height="5.65" fill="#ffffcc"/>
<rect x="579.20" y="290.20" width="40.80" height="5.65" fill="#ffeda0"/>
<rect x="619.95" y="290.20" width="40.80" height="5.65" fill="#ffffcc"/>
<line x1="497.70" x2="660.70" y1="183.80" y2="183.80" stroke="#fff" stroke-width="0.5" stroke-opacity="0.85"/>
<line x1="497.70" x2="660.70" y1="189.40" y2="189.40" stroke="#fff" stroke-width="0.5" stroke-opacity="0.85"/>
<line x1="497.70" x2="660.70" y1="195.00" y2="195.00" stroke="#fff" stroke-width="0.5" stroke-opacity="0.85"/>
<line x1="497.70" x2="660.70" y1="200.60" y2="200.60" stroke="#fff" stroke-width="0.5" stroke-opacity="0.85"/>
<line x1="497.70" x2="660.70" y1="206.20" y2="206.20" stroke="#fff" stroke-width="0.5" stroke-opacity="0.85"/>
<line x1="497.70" x2="660.70" y1="211.80" y2="211.80" stroke="#fff" stroke-width="0.5" stroke-opacity="0.85"/>
<line x1="497.70" x2="660.70" y1="217.40" y2="217.40" stroke="#fff" stroke-width="0.5" stroke-opacity="0.85"/>
<line x1="497.70" x2="660.70" y1="223.00" y2="223.00" stroke="#fff" stroke-width="0.5" stroke-opacity="0.85"/>
<line x1="497.70" x2="660.70" y1="228.60" y2="228.60" stroke="#fff" stroke-width="0.5" stroke-opacity="0.85"/>
<line x1="497.70" x2="660.70" y1="234.20" y2="234.20" stroke="#fff" stroke-width="0.5" stroke-opacity="0.85"/>
<line x1="497.70" x2="660.70" y1="239.80" y2="239.80" stroke="#fff" stroke-width="0.5" stroke-opacity="0.85"/>
<line x1="497.70" x2="660.70" y1="245.40" y2="245.40" stroke="#fff" stroke-width="0.5" stroke-opacity="0.85"/>
<line x1="497.70" x2="660.70" y1="251.00" y2="251.00" stroke="#fff" stroke-width="0.5" stroke-opacity="0.85"/>
<line x1="497.70" x2="660.70" y1="256.60" y2="256.60" stroke="#fff" stroke-width="0.5" stroke-opacity="0.85"/>
<line x1="497.70" x2="660.70" y1="262.20" y2="262.20" stroke="#fff" stroke-width="0.5" stroke-opacity="0.85"/>
<line x1="497.70" x2="660.70" y1="267.80" y2="267.80" stroke="#fff" stroke-width="0.5" stroke-opacity="0.85"/>
<line x1="497.70" x2="660.70" y1="273.40" y2="273.40" stroke="#fff" stroke-width="0.5" stroke-opacity="0.85"/>
<line x1="497.70" x2="660.70" y1="279.00" y2="279.00" stroke="#fff" stroke-width="0.5" stroke-opacity="0.85"/>
<line x1="497.70" x2="660.70" y1="284.60" y2="284.60" stroke="#fff" stroke-width="0.5" stroke-opacity="0.85"/>
<line x1="497.70" x2="660.70" y1="290.20" y2="290.20" stroke="#fff" stroke-width="0.5" stroke-opacity="0.85"/>
<line x1="538.45" x2="538.45" y1="178.20" y2="295.80" stroke="#fff" stroke-width="0.5" stroke-opacity="0.85"/>
<line x1="579.20" x2="579.20" y1="178.20" y2="295.80" stroke="#fff" stroke-width="0.5" stroke-opacity="0.85"/>
<line x1="619.95" x2="619.95" y1="178.20" y2="295.80" stroke="#fff" stroke-width="0.5" stroke-opacity="0.85"/>
<rect x="497.70" y="178.20" width="163.00" height="117.60" fill="none" stroke="#d8d8dc" stroke-width="0.4"/>
<text transform="translate(518.08,182.54) rotate(0.06)" font-size="4.35" text-anchor="middle" fill="#000" stroke="#000" stroke-width="0.08">0.192</text>
<text transform="translate(558.83,182.54) rotate(0.06)" font-size="4.35" text-anchor="middle" fill="#000" stroke="#000" stroke-width="0.08">0.143</text>
<text transform="translate(599.58,182.54) rotate(0.06)" font-size="4.35" text-anchor="middle" fill="#000" stroke="#000" stroke-width="0.08">0.164</text>
<text transform="translate(640.33,182.54) rotate(0.06)" font-size="4.35" text-anchor="middle" fill="#000" stroke="#000" stroke-width="0.08">35</text>
<text transform="translate(495.30,182.63) rotate(0.06)" font-size="4.6" text-anchor="end" fill="#111">20</text>
<text transform="translate(518.08,188.14) rotate(0.06)" font-size="4.35" text-anchor="middle" fill="#000" stroke="#000" stroke-width="0.08">0.317</text>
<text transform="translate(558.83,188.14) rotate(0.06)" font-size="4.35" text-anchor="middle" fill="#000" stroke="#000" stroke-width="0.08">0.388</text>
<text transform="translate(599.58,188.14) rotate(0.06)" font-size="4.35" text-anchor="middle" fill="#000" stroke="#000" stroke-width="0.08">0.354</text>
<text transform="translate(640.33,188.14) rotate(0.06)" font-size="4.35" text-anchor="middle" fill="#000" stroke="#000" stroke-width="0.08">245</text>
<text transform="translate(495.30,188.23) rotate(0.06)" font-size="4.6" text-anchor="end" fill="#111">19</text>
<text transform="translate(518.08,193.74) rotate(0.06)" font-size="4.35" text-anchor="middle" fill="#000" stroke="#000" stroke-width="0.08">0.050</text>
<text transform="translate(558.83,193.74) rotate(0.06)" font-size="4.35" text-anchor="middle" fill="#000" stroke="#000" stroke-width="0.08">0.053</text>
<text transform="translate(599.58,193.74) rotate(0.06)" font-size="4.35" text-anchor="middle" fill="#000" stroke="#000" stroke-width="0.08">0.051</text>
<text transform="translate(640.33,193.74) rotate(0.06)" font-size="4.35" text-anchor="middle" fill="#000" stroke="#000" stroke-width="0.08">38</text>
<text transform="translate(495.30,193.83) rotate(0.06)" font-size="4.6" text-anchor="end" fill="#111">18</text>
<text transform="translate(518.08,199.34) rotate(0.06)" font-size="4.35" text-anchor="middle" fill="#000" stroke="#000" stroke-width="0.08">0.192</text>
<text transform="translate(558.83,199.34) rotate(0.06)" font-size="4.35" text-anchor="middle" fill="#000" stroke="#000" stroke-width="0.08">0.226</text>
<text transform="translate(599.58,199.34) rotate(0.06)" font-size="4.35" text-anchor="middle" fill="#000" stroke="#000" stroke-width="0.08">0.207</text>
<text transform="translate(640.33,199.34) rotate(0.06)" font-size="4.35" text-anchor="middle" fill="#000" stroke="#000" stroke-width="0.08">62</text>
<text transform="translate(495.30,199.43) rotate(0.06)" font-size="4.6" text-anchor="end" fill="#111">17</text>
<text transform="translate(518.08,204.94) rotate(0.06)" font-size="4.35" text-anchor="middle" fill="#fff" fill-opacity="0.88">0.957</text>
<text transform="translate(558.83,204.94) rotate(0.06)" font-size="4.35" text-anchor="middle" fill="#fff" fill-opacity="0.88">0.996</text>
<text transform="translate(599.58,204.94) rotate(0.06)" font-size="4.35" text-anchor="middle" fill="#fff" fill-opacity="0.88">0.976</text>
<text transform="translate(640.33,204.94) rotate(0.06)" font-size="4.35" text-anchor="middle" fill="#000" stroke="#000" stroke-width="0.08">245</text>
<text transform="translate(495.30,205.03) rotate(0.06)" font-size="4.6" text-anchor="end" fill="#111">16</text>
<text transform="translate(518.08,210.54) rotate(0.06)" font-size="4.35" text-anchor="middle" fill="#000" stroke="#000" stroke-width="0.08">0.000</text>
<text transform="translate(558.83,210.54) rotate(0.06)" font-size="4.35" text-anchor="middle" fill="#000" stroke="#000" stroke-width="0.08">0.000</text>
<text transform="translate(599.58,210.54) rotate(0.06)" font-size="4.35" text-anchor="middle" fill="#000" stroke="#000" stroke-width="0.08">0.000</text>
<text transform="translate(640.33,210.54) rotate(0.06)" font-size="4.35" text-anchor="middle" fill="#000" stroke="#000" stroke-width="0.08">19</text>
<text transform="translate(495.30,210.63) rotate(0.06)" font-size="4.6" text-anchor="end" fill="#111">15</text>
<text transform="translate(518.08,216.14) rotate(0.06)" font-size="4.35" text-anchor="middle" fill="#000" stroke="#000" stroke-width="0.08">0.556</text>
<text transform="translate(558.83,216.14) rotate(0.06)" font-size="4.35" text-anchor="middle" fill="#fff" fill-opacity="0.88">0.714</text>
<text transform="translate(599.58,216.14) rotate(0.06)" font-size="4.35" text-anchor="middle" fill="#000" stroke="#000" stroke-width="0.08">0.625</text>
<text transform="translate(640.33,216.14) rotate(0.06)" font-size="4.35" text-anchor="middle" fill="#000" stroke="#000" stroke-width="0.08">14</text>
<text transform="translate(495.30,216.23) rotate(0.06)" font-size="4.6" text-anchor="end" fill="#111">14</text>
<text transform="translate(518.08,221.74) rotate(0.06)" font-size="4.35" text-anchor="middle" fill="#000" stroke="#000" stroke-width="0.08">0.227</text>
<text transform="translate(558.83,221.74) rotate(0.06)" font-size="4.35" text-anchor="middle" fill="#000" stroke="#000" stroke-width="0.08">0.212</text>
<text transform="translate(599.58,221.74) rotate(0.06)" font-size="4.35" text-anchor="middle" fill="#000" stroke="#000" stroke-width="0.08">0.219</text>
<text transform="translate(640.33,221.74) rotate(0.06)" font-size="4.35" text-anchor="middle" fill="#000" stroke="#000" stroke-width="0.08">80</text>
<text transform="translate(495.30,221.83) rotate(0.06)" font-size="4.6" text-anchor="end" fill="#111">13</text>
<text transform="translate(518.08,227.34) rotate(0.06)" font-size="4.35" text-anchor="middle" fill="#000" stroke="#000" stroke-width="0.08">0.571</text>
<text transform="translate(558.83,227.34) rotate(0.06)" font-size="4.35" text-anchor="middle" fill="#000" stroke="#000" stroke-width="0.08">0.211</text>
<text transform="translate(599.58,227.34) rotate(0.06)" font-size="4.35" text-anchor="middle" fill="#000" stroke="#000" stroke-width="0.08">0.308</text>
<text transform="translate(640.33,227.34) rotate(0.06)" font-size="4.35" text-anchor="middle" fill="#000" stroke="#000" stroke-width="0.08">19</text>
<text transform="translate(495.30,227.43) rotate(0.06)" font-size="4.6" text-anchor="end" fill="#111">12</text>
<text transform="translate(518.08,232.94) rotate(0.06)" font-size="4.35" text-anchor="middle" fill="#000" stroke="#000" stroke-width="0.08">0.280</text>
<text transform="translate(558.83,232.94) rotate(0.06)" font-size="4.35" text-anchor="middle" fill="#000" stroke="#000" stroke-width="0.08">0.286</text>
<text transform="translate(599.58,232.94) rotate(0.06)" font-size="4.35" text-anchor="middle" fill="#000" stroke="#000" stroke-width="0.08">0.265</text>
<text transform="translate(640.33,232.94) rotate(0.06)" font-size="4.35" text-anchor="middle" fill="#000" stroke="#000" stroke-width="0.08">35</text>
<text transform="translate(495.30,233.03) rotate(0.06)" font-size="4.6" text-anchor="end" fill="#111">11</text>
<text transform="translate(518.08,238.54) rotate(0.06)" font-size="4.35" text-anchor="middle" fill="#000" stroke="#000" stroke-width="0.08">0.000</text>
<text transform="translate(558.83,238.54) rotate(0.06)" font-size="4.35" text-anchor="middle" fill="#000" stroke="#000" stroke-width="0.08">0.000</text>
<text transform="translate(599.58,238.54) rotate(0.06)" font-size="4.35" text-anchor="middle" fill="#000" stroke="#000" stroke-width="0.08">0.000</text>
<text transform="translate(640.33,238.54) rotate(0.06)" font-size="4.35" text-anchor="middle" fill="#000" stroke="#000" stroke-width="0.08">21</text>
<text transform="translate(495.30,238.63) rotate(0.06)" font-size="4.6" text-anchor="end" fill="#111">10</text>
<text transform="translate(518.08,244.14) rotate(0.06)" font-size="4.35" text-anchor="middle" fill="#000" stroke="#000" stroke-width="0.08">0.128</text>
<text transform="translate(558.83,244.14) rotate(0.06)" font-size="4.35" text-anchor="middle" fill="#000" stroke="#000" stroke-width="0.08">0.200</text>
<text transform="translate(599.58,244.14) rotate(0.06)" font-size="4.35" text-anchor="middle" fill="#000" stroke="#000" stroke-width="0.08">0.156</text>
<text transform="translate(640.33,244.14) rotate(0.06)" font-size="4.35" text-anchor="middle" fill="#000" stroke="#000" stroke-width="0.08">50</text>
<text transform="translate(495.30,244.23) rotate(0.06)" font-size="4.6" text-anchor="end" fill="#111">9</text>
<text transform="translate(518.08,249.74) rotate(0.06)" font-size="4.35" text-anchor="middle" fill="#000" stroke="#000" stroke-width="0.08">0.000</text>
<text transform="translate(558.83,249.74) rotate(0.06)" font-size="4.35" text-anchor="middle" fill="#000" stroke="#000" stroke-width="0.08">0.000</text>
<text transform="translate(599.58,249.74) rotate(0.06)" font-size="4.35" text-anchor="middle" fill="#000" stroke="#000" stroke-width="0.08">0.000</text>
<text transform="translate(640.33,249.74) rotate(0.06)" font-size="4.35" text-anchor="middle" fill="#000" stroke="#000" stroke-width="0.08">18</text>
<text transform="translate(495.30,249.83) rotate(0.06)" font-size="4.6" text-anchor="end" fill="#111">8</text>
<text transform="translate(518.08,255.34) rotate(0.06)" font-size="4.35" text-anchor="middle" fill="#000" stroke="#000" stroke-width="0.08">0.000</text>
<text transform="translate(558.83,255.34) rotate(0.06)" font-size="4.35" text-anchor="middle" fill="#000" stroke="#000" stroke-width="0.08">0.000</text>
<text transform="translate(599.58,255.34) rotate(0.06)" font-size="4.35" text-anchor="middle" fill="#000" stroke="#000" stroke-width="0.08">0.000</text>
<text transform="translate(640.33,255.34) rotate(0.06)" font-size="4.35" text-anchor="middle" fill="#000" stroke="#000" stroke-width="0.08">20</text>
<text transform="translate(495.30,255.43) rotate(0.06)" font-size="4.6" text-anchor="end" fill="#111">7</text>
<text transform="translate(518.08,260.94) rotate(0.06)" font-size="4.35" text-anchor="middle" fill="#000" stroke="#000" stroke-width="0.08">0.121</text>
<text transform="translate(558.83,260.94) rotate(0.06)" font-size="4.35" text-anchor="middle" fill="#000" stroke="#000" stroke-width="0.08">0.121</text>
<text transform="translate(599.58,260.94) rotate(0.06)" font-size="4.35" text-anchor="middle" fill="#000" stroke="#000" stroke-width="0.08">0.121</text>
<text transform="translate(640.33,260.94) rotate(0.06)" font-size="4.35" text-anchor="middle" fill="#000" stroke="#000" stroke-width="0.08">58</text>
<text transform="translate(495.30,261.03) rotate(0.06)" font-size="4.6" text-anchor="end" fill="#111">6</text>
<text transform="translate(518.08,266.54) rotate(0.06)" font-size="4.35" text-anchor="middle" fill="#000" stroke="#000" stroke-width="0.08">0.205</text>
<text transform="translate(558.83,266.54) rotate(0.06)" font-size="4.35" text-anchor="middle" fill="#000" stroke="#000" stroke-width="0.08">0.160</text>
<text transform="translate(599.58,266.54) rotate(0.06)" font-size="4.35" text-anchor="middle" fill="#000" stroke="#000" stroke-width="0.08">0.180</text>
<text transform="translate(640.33,266.54) rotate(0.06)" font-size="4.35" text-anchor="middle" fill="#000" stroke="#000" stroke-width="0.08">50</text>
<text transform="translate(495.30,266.63) rotate(0.06)" font-size="4.6" text-anchor="end" fill="#111">5</text>
<text transform="translate(518.08,272.14) rotate(0.06)" font-size="4.35" text-anchor="middle" fill="#000" stroke="#000" stroke-width="0.08">0.062</text>
<text transform="translate(558.83,272.14) rotate(0.06)" font-size="4.35" text-anchor="middle" fill="#000" stroke="#000" stroke-width="0.08">0.059</text>
<text transform="translate(599.58,272.14) rotate(0.06)" font-size="4.35" text-anchor="middle" fill="#000" stroke="#000" stroke-width="0.08">0.061</text>
<text transform="translate(640.33,272.14) rotate(0.06)" font-size="4.35" text-anchor="middle" fill="#000" stroke="#000" stroke-width="0.08">17</text>
<text transform="translate(495.30,272.23) rotate(0.06)" font-size="4.6" text-anchor="end" fill="#111">4</text>
<text transform="translate(518.08,277.74) rotate(0.06)" font-size="4.35" text-anchor="middle" fill="#000" stroke="#000" stroke-width="0.08">0.000</text>
<text transform="translate(558.83,277.74) rotate(0.06)" font-size="4.35" text-anchor="middle" fill="#000" stroke="#000" stroke-width="0.08">0.000</text>
<text transform="translate(599.58,277.74) rotate(0.06)" font-size="4.35" text-anchor="middle" fill="#000" stroke="#000" stroke-width="0.08">0.000</text>
<text transform="translate(640.33,277.74) rotate(0.06)" font-size="4.35" text-anchor="middle" fill="#000" stroke="#000" stroke-width="0.08">22</text>
<text transform="translate(495.30,277.83) rotate(0.06)" font-size="4.6" text-anchor="end" fill="#111">3</text>
<text transform="translate(518.08,283.34) rotate(0.06)" font-size="4.35" text-anchor="middle" fill="#000" stroke="#000" stroke-width="0.08">0.105</text>
<text transform="translate(558.83,283.34) rotate(0.06)" font-size="4.35" text-anchor="middle" fill="#000" stroke="#000" stroke-width="0.08">0.083</text>
<text transform="translate(599.58,283.34) rotate(0.06)" font-size="4.35" text-anchor="middle" fill="#000" stroke="#000" stroke-width="0.08">0.093</text>
<text transform="translate(640.33,283.34) rotate(0.06)" font-size="4.35" text-anchor="middle" fill="#000" stroke="#000" stroke-width="0.08">24</text>
<text transform="translate(495.30,283.43) rotate(0.06)" font-size="4.6" text-anchor="end" fill="#111">2</text>
<text transform="translate(518.08,288.94) rotate(0.06)" font-size="4.35" text-anchor="middle" fill="#000" stroke="#000" stroke-width="0.08">0.219</text>
<text transform="translate(558.83,288.94) rotate(0.06)" font-size="4.35" text-anchor="middle" fill="#000" stroke="#000" stroke-width="0.08">0.181</text>
<text transform="translate(599.58,288.94) rotate(0.06)" font-size="4.35" text-anchor="middle" fill="#000" stroke="#000" stroke-width="0.08">0.198</text>
<text transform="translate(640.33,288.94) rotate(0.06)" font-size="4.35" text-anchor="middle" fill="#000" stroke="#000" stroke-width="0.08">116</text>
<text transform="translate(495.30,289.03) rotate(0.06)" font-size="4.6" text-anchor="end" fill="#111">1</text>
<text transform="translate(518.08,294.54) rotate(0.06)" font-size="4.35" text-anchor="middle" fill="#000" stroke="#000" stroke-width="0.08">0.120</text>
<text transform="translate(558.83,294.54) rotate(0.06)" font-size="4.35" text-anchor="middle" fill="#000" stroke="#000" stroke-width="0.08">0.108</text>
<text transform="translate(599.58,294.54) rotate(0.06)" font-size="4.35" text-anchor="middle" fill="#000" stroke="#000" stroke-width="0.08">0.114</text>
<text transform="translate(640.33,294.54) rotate(0.06)" font-size="4.35" text-anchor="middle" fill="#000" stroke="#000" stroke-width="0.08">83</text>
<text transform="translate(495.30,294.63) rotate(0.06)" font-size="4.6" text-anchor="end" fill="#111">0</text>
<text transform="translate(579.50,176.30) rotate(0.06)" font-size="4.6" text-anchor="middle" fill="#1a1a1a">MLPClassifier Classification Report</text>
<text transform="translate(518.08,307.45) rotate(-45)" y="1.38" font-size="4.6" text-anchor="middle" fill="#111">precision</text>
<text transform="translate(558.83,304.83) rotate(-45)" y="1.38" font-size="4.6" text-anchor="middle" fill="#111">recall</text>
<text transform="translate(599.58,302.30) rotate(-45)" y="1.38" font-size="4.6" text-anchor="middle" fill="#111">f1</text>
<text transform="translate(640.33,306.37) rotate(-45)" y="1.38" font-size="4.6" text-anchor="middle" fill="#111">support</text>
<rect x="670.70" y="178.20" width="5.7" height="13.12" fill="#800026"/>
<rect x="670.70" y="191.27" width="5.7" height="13.12" fill="#bd0026"/>
<rect x="670.70" y="204.33" width="5.7" height="13.12" fill="#e31a1c"/>
<rect x="670.70" y="217.40" width="5.7" height="13.12" fill="#fc4e2a"/>
<rect x="670.70" y="230.47" width="5.7" height="13.12" fill="#fd8d3c"/>
<rect x="670.70" y="243.53" width="5.7" height="13.12" fill="#feb24c"/>
<rect x="670.70" y="256.60" width="5.7" height="13.12" fill="#fed976"/>
<rect x="670.70" y="269.67" width="5.7" height="13.12" fill="#ffeda0"/>
<rect x="670.70" y="282.73" width="5.7" height="13.12" fill="#ffffcc"/>
<rect x="670.70" y="178.20" width="5.7" height="117.60" fill="none" stroke="#d8d8dc" stroke-width="0.4"/>
<text transform="translate(679.40,179.93) rotate(0.06)" font-size="3.75" text-anchor="start" fill="#111">1.0</text>
<text transform="translate(679.40,203.45) rotate(0.06)" font-size="3.75" text-anchor="start" fill="#111">0.8</text>
<text transform="translate(679.40,226.97) rotate(0.06)" font-size="3.75" text-anchor="start" fill="#111">0.6</text>
<text transform="translate(679.40,250.49) rotate(0.06)" font-size="3.75" text-anchor="start" fill="#111">0.4</text>
<text transform="translate(679.40,274.01) rotate(0.06)" font-size="3.75" text-anchor="start" fill="#111">0.2</text>
<text transform="translate(679.40,297.53) rotate(0.06)" font-size="3.75" text-anchor="start" fill="#111">0.0</text>
<text x="586.90" y="335.90" font-size="12" font-weight="bold" text-anchor="middle" fill="#111">(f)</text>
</g>
</svg>
</body></html>
